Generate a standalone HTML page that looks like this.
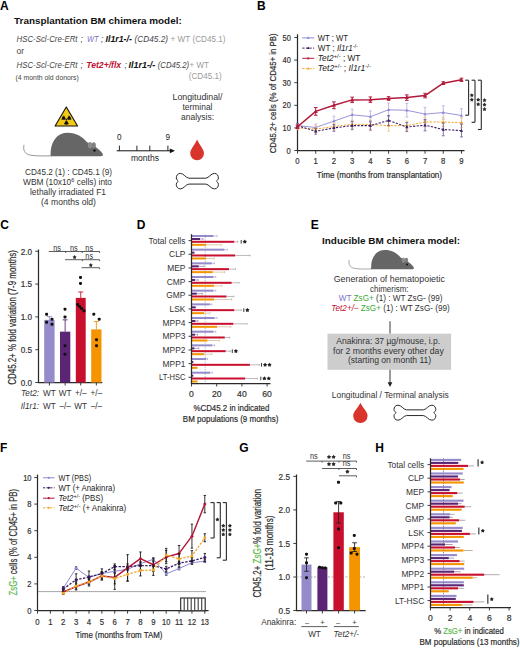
<!DOCTYPE html>
<html><head><meta charset="utf-8"><title>Figure</title>
<style>
html,body{margin:0;padding:0;background:#fff;}
svg{display:block;font-family:"Liberation Sans",sans-serif;}
</style></head>
<body>
<svg width="520" height="649" viewBox="0 0 520 649">
<rect width="520" height="649" fill="#fff"/>
<text x="0.1" y="9.8" font-size="12" fill="#000" font-weight="bold">A</text>
<text x="14.1" y="23.6" font-size="9.8" fill="#111" font-weight="bold" textLength="167.6" lengthAdjust="spacingAndGlyphs">Transplantation BM chimera model:</text>
<text y="42.4" font-size="8.5" fill="#464646" font-style="italic"><tspan x="16.5" textLength="61" lengthAdjust="spacingAndGlyphs">HSC-Scl-Cre-ERt</tspan><tspan x="80.6">;</tspan><tspan x="86.9" fill="#7c75c4" textLength="11.6" lengthAdjust="spacingAndGlyphs">WT</tspan><tspan x="100.9">;</tspan><tspan x="105.6" font-weight="bold" fill="#111" textLength="26.3" lengthAdjust="spacingAndGlyphs">Il1r1-/-</tspan><tspan x="134.6" fill="#444" textLength="33.4" lengthAdjust="spacingAndGlyphs">(CD45.2)</tspan><tspan x="170.6" font-style="normal" fill="#9a9a9a" textLength="54.9" lengthAdjust="spacingAndGlyphs">+ WT (CD45.1)</tspan></text>
<text x="16.5" y="54" font-size="8.5" fill="#464646">or</text>
<text y="67.6" font-size="8.5" fill="#464646" font-style="italic"><tspan x="16.5" textLength="61" lengthAdjust="spacingAndGlyphs">HSC-Scl-Cre-ERt</tspan><tspan x="80.6">;</tspan><tspan x="86.2" font-weight="bold" fill="#c0102f" textLength="35" lengthAdjust="spacingAndGlyphs">Tet2+/flx</tspan><tspan x="124.4">;</tspan><tspan x="128.6" font-weight="bold" fill="#111" textLength="26.7" lengthAdjust="spacingAndGlyphs">Il1r1-/-</tspan><tspan x="157.7" fill="#444" textLength="31.5" lengthAdjust="spacingAndGlyphs">(CD45.2)</tspan><tspan x="189.6" font-style="normal" fill="#9a9a9a" textLength="19.2" lengthAdjust="spacingAndGlyphs">+ WT</tspan></text>
<text x="188.7" y="78.8" font-size="8.5" fill="#9a9a9a" textLength="33" lengthAdjust="spacingAndGlyphs">(CD45.1)</text>
<text x="15.6" y="80.3" font-size="6.6" fill="#444" textLength="63.2" lengthAdjust="spacingAndGlyphs">(4 month old donors)</text>
<polygon points="66.3,107.0 77.6,126.0 55.1,126.0" fill="#f2c914" stroke="#111" stroke-width="1.1" stroke-linejoin="round"/>
<path d="M67.15,118.4 L68.85,115.46 A4.9,4.9 0 0 1 71.3,119.7 L67.9,119.7 Z" fill="#111"/>
<path d="M67.15,121 L68.85,123.94 A4.9,4.9 0 0 1 63.95,123.94 L65.65,121 Z" fill="#111"/>
<path d="M64.9,119.7 L61.5,119.7 A4.9,4.9 0 0 1 63.95,115.46 L65.65,118.4 Z" fill="#111"/>
<circle cx="66.4" cy="119.7" r="0.9" fill="#111"/>
<g transform="translate(23.5,128) scale(1)"><path d="M0.4,17.3 C-0.6,22 1,26 7,27.2 C14,28.2 21,28 28,27.8" fill="none" stroke="#8a8a8a" stroke-width="0.9" stroke-linecap="round"/><path d="M27.3,28.2 C26.4,18 31,5.2 43.2,4.8 C53,4.5 59,9 63.5,14.2 C67,15.5 71,17.5 75,21.3 C77.5,23.5 79.9,25.8 79.3,27.3 C79,28.1 78,28.2 77,28.2 Z" fill="#666"/><ellipse cx="66.6" cy="17.2" rx="2.1" ry="3.2" fill="#8c8c8c"/><ellipse cx="70.3" cy="17.3" rx="2.0" ry="3.0" fill="#7e7e7e"/><circle cx="71" cy="22.5" r="1.2" fill="#111"/></g>
<text x="68.5" y="175.3" font-size="8.2" text-anchor="middle" fill="#333" textLength="87" lengthAdjust="spacingAndGlyphs">CD45.2 (1) : CD45.1 (9)</text>
<text x="67.5" y="185.3" font-size="8.2" text-anchor="middle" fill="#333" textLength="89" lengthAdjust="spacingAndGlyphs">WBM (10x10<tspan dy="-3" font-size="5.5">6</tspan><tspan dy="3"> cells) into</tspan></text>
<text x="68" y="195.3" font-size="8.2" text-anchor="middle" fill="#333" textLength="76" lengthAdjust="spacingAndGlyphs">lethally irradiated F1</text>
<text x="68.5" y="205.3" font-size="8.2" text-anchor="middle" fill="#333" textLength="55" lengthAdjust="spacingAndGlyphs">(4 months old)</text>
<text x="119.4" y="139.7" font-size="8.2" text-anchor="middle" fill="#222">0</text>
<text x="167.9" y="139.7" font-size="8.2" text-anchor="middle" fill="#222">9</text>
<line x1="116.7" y1="150.8" x2="171.5" y2="150.8" stroke="#111" stroke-width="1"/>
<polygon points="175,150.8 169.8,148.4 169.8,153.2" fill="#111"/>
<line x1="119.4" y1="145.6" x2="119.4" y2="150.8" stroke="#111" stroke-width="0.9"/>
<line x1="136.9" y1="145.6" x2="136.9" y2="150.8" stroke="#111" stroke-width="0.9"/>
<line x1="149.8" y1="145.6" x2="149.8" y2="150.8" stroke="#111" stroke-width="0.9"/>
<line x1="167.9" y1="145.6" x2="167.9" y2="150.8" stroke="#111" stroke-width="0.9"/>
<text x="145" y="161.4" font-size="8.4" text-anchor="middle" fill="#222" textLength="28" lengthAdjust="spacingAndGlyphs">months</text>
<text x="197.5" y="99.8" font-size="8.2" text-anchor="middle" fill="#333" textLength="50" lengthAdjust="spacingAndGlyphs">Longitudinal/</text>
<text x="197.5" y="109.8" font-size="8.2" text-anchor="middle" fill="#333" textLength="30" lengthAdjust="spacingAndGlyphs">terminal</text>
<text x="197.5" y="119.8" font-size="8.2" text-anchor="middle" fill="#333" textLength="33" lengthAdjust="spacingAndGlyphs">analysis:</text>
<path d="M197.1,139.4 C199.51,145.22 204,149.16 204,153.3 A6.9,6.9 0 0 1 190.2,153.3 C190.2,149.16 194.69,145.22 197.1,139.4 Z" fill="#d9342b"/>
<path d="M188.93,178.21 L205.77,178.21 C209.14,177.9 210.82,173.4 214.4,173.4 C217.35,173.4 218.4,175.88 218.4,178.05 C218.4,179.91 216.51,180.53 216.38,181.15 C216.51,181.77 218.4,182.39 218.4,184.25 C218.4,186.42 217.35,188.9 214.4,188.9 C210.82,188.9 209.14,184.41 205.77,184.09 L188.93,184.09 C185.56,184.41 183.88,188.9 180.3,188.9 C177.35,188.9 176.3,186.42 176.3,184.25 C176.3,182.39 178.19,181.77 178.32,181.15 C178.19,180.53 176.3,179.91 176.3,178.05 C176.3,175.88 177.35,173.4 180.3,173.4 C183.88,173.4 185.56,177.9 188.93,178.21 Z" fill="#fff" stroke="#2a2a2a" stroke-width="1" stroke-linejoin="round"/>
<text x="257" y="9.8" font-size="12" fill="#000" font-weight="bold">B</text>
<line x1="297.5" y1="34.3" x2="297.5" y2="151" stroke="#2a2a2a" stroke-width="1.25"/>
<line x1="296.9" y1="150.5" x2="464.5" y2="150.5" stroke="#2a2a2a" stroke-width="1.25"/>
<line x1="294.3" y1="150.5" x2="297.5" y2="150.5" stroke="#2a2a2a" stroke-width="0.9"/>
<text x="290.8" y="153.6" font-size="8.6" text-anchor="end" fill="#333" textLength="4.2" lengthAdjust="spacingAndGlyphs" stroke="#333" stroke-width="0.2">0</text>
<line x1="294.3" y1="127.9" x2="297.5" y2="127.9" stroke="#2a2a2a" stroke-width="0.9"/>
<text x="290.8" y="131" font-size="8.6" text-anchor="end" fill="#333" textLength="8.3" lengthAdjust="spacingAndGlyphs" stroke="#333" stroke-width="0.2">10</text>
<line x1="294.3" y1="105.3" x2="297.5" y2="105.3" stroke="#2a2a2a" stroke-width="0.9"/>
<text x="290.8" y="108.4" font-size="8.6" text-anchor="end" fill="#333" textLength="8.3" lengthAdjust="spacingAndGlyphs" stroke="#333" stroke-width="0.2">20</text>
<line x1="294.3" y1="82.7" x2="297.5" y2="82.7" stroke="#2a2a2a" stroke-width="0.9"/>
<text x="290.8" y="85.8" font-size="8.6" text-anchor="end" fill="#333" textLength="8.3" lengthAdjust="spacingAndGlyphs" stroke="#333" stroke-width="0.2">30</text>
<line x1="294.3" y1="60.1" x2="297.5" y2="60.1" stroke="#2a2a2a" stroke-width="0.9"/>
<text x="290.8" y="63.2" font-size="8.6" text-anchor="end" fill="#333" textLength="8.3" lengthAdjust="spacingAndGlyphs" stroke="#333" stroke-width="0.2">40</text>
<line x1="294.3" y1="37.5" x2="297.5" y2="37.5" stroke="#2a2a2a" stroke-width="0.9"/>
<text x="290.8" y="40.6" font-size="8.6" text-anchor="end" fill="#333" textLength="8.3" lengthAdjust="spacingAndGlyphs" stroke="#333" stroke-width="0.2">50</text>
<line x1="297.5" y1="150.5" x2="297.5" y2="153.7" stroke="#2a2a2a" stroke-width="0.9"/>
<text x="297.5" y="164.3" font-size="8.6" text-anchor="middle" fill="#333" textLength="4.3" lengthAdjust="spacingAndGlyphs" stroke="#333" stroke-width="0.2">0</text>
<line x1="315.72" y1="150.5" x2="315.72" y2="153.7" stroke="#2a2a2a" stroke-width="0.9"/>
<text x="315.72" y="164.3" font-size="8.6" text-anchor="middle" fill="#333" textLength="4.3" lengthAdjust="spacingAndGlyphs" stroke="#333" stroke-width="0.2">1</text>
<line x1="333.94" y1="150.5" x2="333.94" y2="153.7" stroke="#2a2a2a" stroke-width="0.9"/>
<text x="333.94" y="164.3" font-size="8.6" text-anchor="middle" fill="#333" textLength="4.3" lengthAdjust="spacingAndGlyphs" stroke="#333" stroke-width="0.2">2</text>
<line x1="352.16" y1="150.5" x2="352.16" y2="153.7" stroke="#2a2a2a" stroke-width="0.9"/>
<text x="352.16" y="164.3" font-size="8.6" text-anchor="middle" fill="#333" textLength="4.3" lengthAdjust="spacingAndGlyphs" stroke="#333" stroke-width="0.2">3</text>
<line x1="370.38" y1="150.5" x2="370.38" y2="153.7" stroke="#2a2a2a" stroke-width="0.9"/>
<text x="370.38" y="164.3" font-size="8.6" text-anchor="middle" fill="#333" textLength="4.3" lengthAdjust="spacingAndGlyphs" stroke="#333" stroke-width="0.2">4</text>
<line x1="388.6" y1="150.5" x2="388.6" y2="153.7" stroke="#2a2a2a" stroke-width="0.9"/>
<text x="388.6" y="164.3" font-size="8.6" text-anchor="middle" fill="#333" textLength="4.3" lengthAdjust="spacingAndGlyphs" stroke="#333" stroke-width="0.2">5</text>
<line x1="406.82" y1="150.5" x2="406.82" y2="153.7" stroke="#2a2a2a" stroke-width="0.9"/>
<text x="406.82" y="164.3" font-size="8.6" text-anchor="middle" fill="#333" textLength="4.3" lengthAdjust="spacingAndGlyphs" stroke="#333" stroke-width="0.2">6</text>
<line x1="425.04" y1="150.5" x2="425.04" y2="153.7" stroke="#2a2a2a" stroke-width="0.9"/>
<text x="425.04" y="164.3" font-size="8.6" text-anchor="middle" fill="#333" textLength="4.3" lengthAdjust="spacingAndGlyphs" stroke="#333" stroke-width="0.2">7</text>
<line x1="443.26" y1="150.5" x2="443.26" y2="153.7" stroke="#2a2a2a" stroke-width="0.9"/>
<text x="443.26" y="164.3" font-size="8.6" text-anchor="middle" fill="#333" textLength="4.3" lengthAdjust="spacingAndGlyphs" stroke="#333" stroke-width="0.2">8</text>
<line x1="461.48" y1="150.5" x2="461.48" y2="153.7" stroke="#2a2a2a" stroke-width="0.9"/>
<text x="461.48" y="164.3" font-size="8.6" text-anchor="middle" fill="#333" textLength="4.3" lengthAdjust="spacingAndGlyphs" stroke="#333" stroke-width="0.2">9</text>
<text x="379.4" y="177.5" font-size="9.8" text-anchor="middle" fill="#2a2a2a" textLength="125.3" lengthAdjust="spacingAndGlyphs" stroke="#2a2a2a" stroke-width="0.2">Time (months from transplantation)</text>
<text transform="translate(275.9,93.3) rotate(-90)" font-size="9.6" text-anchor="middle" fill="#2a2a2a" stroke="#2a2a2a" stroke-width="0.2" textLength="120" lengthAdjust="spacingAndGlyphs">CD45.2+ cells (% of CD45+ in PB)</text>
<line x1="297.5" y1="123.38" x2="297.5" y2="127.9" stroke="#b2a9dd" stroke-width="0.8"/>
<line x1="296.1" y1="123.38" x2="298.9" y2="123.38" stroke="#b2a9dd" stroke-width="0.8"/>
<line x1="296.1" y1="127.9" x2="298.9" y2="127.9" stroke="#b2a9dd" stroke-width="0.8"/>
<line x1="315.72" y1="124.06" x2="315.72" y2="130.84" stroke="#b2a9dd" stroke-width="0.8"/>
<line x1="314.32" y1="124.06" x2="317.12" y2="124.06" stroke="#b2a9dd" stroke-width="0.8"/>
<line x1="314.32" y1="130.84" x2="317.12" y2="130.84" stroke="#b2a9dd" stroke-width="0.8"/>
<line x1="333.94" y1="116.15" x2="333.94" y2="126.09" stroke="#b2a9dd" stroke-width="0.8"/>
<line x1="332.54" y1="116.15" x2="335.34" y2="116.15" stroke="#b2a9dd" stroke-width="0.8"/>
<line x1="332.54" y1="126.09" x2="335.34" y2="126.09" stroke="#b2a9dd" stroke-width="0.8"/>
<line x1="352.16" y1="109.14" x2="352.16" y2="120.44" stroke="#b2a9dd" stroke-width="0.8"/>
<line x1="350.76" y1="109.14" x2="353.56" y2="109.14" stroke="#b2a9dd" stroke-width="0.8"/>
<line x1="350.76" y1="120.44" x2="353.56" y2="120.44" stroke="#b2a9dd" stroke-width="0.8"/>
<line x1="370.38" y1="110.95" x2="370.38" y2="122.25" stroke="#b2a9dd" stroke-width="0.8"/>
<line x1="368.98" y1="110.95" x2="371.78" y2="110.95" stroke="#b2a9dd" stroke-width="0.8"/>
<line x1="368.98" y1="122.25" x2="371.78" y2="122.25" stroke="#b2a9dd" stroke-width="0.8"/>
<line x1="388.6" y1="103.04" x2="388.6" y2="116.6" stroke="#b2a9dd" stroke-width="0.8"/>
<line x1="387.2" y1="103.04" x2="390" y2="103.04" stroke="#b2a9dd" stroke-width="0.8"/>
<line x1="387.2" y1="116.6" x2="390" y2="116.6" stroke="#b2a9dd" stroke-width="0.8"/>
<line x1="406.82" y1="103.49" x2="406.82" y2="117.05" stroke="#b2a9dd" stroke-width="0.8"/>
<line x1="405.42" y1="103.49" x2="408.22" y2="103.49" stroke="#b2a9dd" stroke-width="0.8"/>
<line x1="405.42" y1="117.05" x2="408.22" y2="117.05" stroke="#b2a9dd" stroke-width="0.8"/>
<line x1="425.04" y1="107.33" x2="425.04" y2="120.89" stroke="#b2a9dd" stroke-width="0.8"/>
<line x1="423.64" y1="107.33" x2="426.44" y2="107.33" stroke="#b2a9dd" stroke-width="0.8"/>
<line x1="423.64" y1="120.89" x2="426.44" y2="120.89" stroke="#b2a9dd" stroke-width="0.8"/>
<line x1="443.26" y1="105.75" x2="443.26" y2="119.31" stroke="#b2a9dd" stroke-width="0.8"/>
<line x1="441.86" y1="105.75" x2="444.66" y2="105.75" stroke="#b2a9dd" stroke-width="0.8"/>
<line x1="441.86" y1="119.31" x2="444.66" y2="119.31" stroke="#b2a9dd" stroke-width="0.8"/>
<line x1="461.48" y1="108.69" x2="461.48" y2="122.25" stroke="#b2a9dd" stroke-width="0.8"/>
<line x1="460.08" y1="108.69" x2="462.88" y2="108.69" stroke="#b2a9dd" stroke-width="0.8"/>
<line x1="460.08" y1="122.25" x2="462.88" y2="122.25" stroke="#b2a9dd" stroke-width="0.8"/>
<polyline points="297.5,125.64 315.72,127.45 333.94,121.12 352.16,114.79 370.38,116.6 388.6,109.82 406.82,110.27 425.04,114.11 443.26,112.53 461.48,115.47" fill="none" stroke="#8f88d4" stroke-width="0.9" stroke-linejoin="round"/>
<polygon points="297.5,123.94 299.1,126.84 295.9,126.84" fill="#8f88d4"/>
<polygon points="315.72,125.75 317.32,128.65 314.12,128.65" fill="#8f88d4"/>
<polygon points="333.94,119.42 335.54,122.32 332.34,122.32" fill="#8f88d4"/>
<polygon points="352.16,113.09 353.76,115.99 350.56,115.99" fill="#8f88d4"/>
<polygon points="370.38,114.9 371.98,117.8 368.78,117.8" fill="#8f88d4"/>
<polygon points="388.6,108.12 390.2,111.02 387,111.02" fill="#8f88d4"/>
<polygon points="406.82,108.57 408.42,111.47 405.22,111.47" fill="#8f88d4"/>
<polygon points="425.04,112.41 426.64,115.31 423.44,115.31" fill="#8f88d4"/>
<polygon points="443.26,110.83 444.86,113.73 441.66,113.73" fill="#8f88d4"/>
<polygon points="461.48,113.77 463.08,116.67 459.88,116.67" fill="#8f88d4"/>
<line x1="297.5" y1="126.09" x2="297.5" y2="129.71" stroke="#f6c777" stroke-width="0.8"/>
<line x1="296.1" y1="126.09" x2="298.9" y2="126.09" stroke="#f6c777" stroke-width="0.8"/>
<line x1="296.1" y1="129.71" x2="298.9" y2="129.71" stroke="#f6c777" stroke-width="0.8"/>
<line x1="315.72" y1="125.64" x2="315.72" y2="132.42" stroke="#f6c777" stroke-width="0.8"/>
<line x1="314.32" y1="125.64" x2="317.12" y2="125.64" stroke="#f6c777" stroke-width="0.8"/>
<line x1="314.32" y1="132.42" x2="317.12" y2="132.42" stroke="#f6c777" stroke-width="0.8"/>
<line x1="333.94" y1="123.15" x2="333.94" y2="129.93" stroke="#f6c777" stroke-width="0.8"/>
<line x1="332.54" y1="123.15" x2="335.34" y2="123.15" stroke="#f6c777" stroke-width="0.8"/>
<line x1="332.54" y1="129.93" x2="335.34" y2="129.93" stroke="#f6c777" stroke-width="0.8"/>
<line x1="352.16" y1="120.22" x2="352.16" y2="128.35" stroke="#f6c777" stroke-width="0.8"/>
<line x1="350.76" y1="120.22" x2="353.56" y2="120.22" stroke="#f6c777" stroke-width="0.8"/>
<line x1="350.76" y1="128.35" x2="353.56" y2="128.35" stroke="#f6c777" stroke-width="0.8"/>
<line x1="370.38" y1="119.99" x2="370.38" y2="129.03" stroke="#f6c777" stroke-width="0.8"/>
<line x1="368.98" y1="119.99" x2="371.78" y2="119.99" stroke="#f6c777" stroke-width="0.8"/>
<line x1="368.98" y1="129.03" x2="371.78" y2="129.03" stroke="#f6c777" stroke-width="0.8"/>
<line x1="388.6" y1="119.99" x2="388.6" y2="131.29" stroke="#f6c777" stroke-width="0.8"/>
<line x1="387.2" y1="119.99" x2="390" y2="119.99" stroke="#f6c777" stroke-width="0.8"/>
<line x1="387.2" y1="131.29" x2="390" y2="131.29" stroke="#f6c777" stroke-width="0.8"/>
<line x1="406.82" y1="121.12" x2="406.82" y2="130.16" stroke="#f6c777" stroke-width="0.8"/>
<line x1="405.42" y1="121.12" x2="408.22" y2="121.12" stroke="#f6c777" stroke-width="0.8"/>
<line x1="405.42" y1="130.16" x2="408.22" y2="130.16" stroke="#f6c777" stroke-width="0.8"/>
<line x1="425.04" y1="117.5" x2="425.04" y2="126.54" stroke="#f6c777" stroke-width="0.8"/>
<line x1="423.64" y1="117.5" x2="426.44" y2="117.5" stroke="#f6c777" stroke-width="0.8"/>
<line x1="423.64" y1="126.54" x2="426.44" y2="126.54" stroke="#f6c777" stroke-width="0.8"/>
<line x1="443.26" y1="117.5" x2="443.26" y2="126.54" stroke="#f6c777" stroke-width="0.8"/>
<line x1="441.86" y1="117.5" x2="444.66" y2="117.5" stroke="#f6c777" stroke-width="0.8"/>
<line x1="441.86" y1="126.54" x2="444.66" y2="126.54" stroke="#f6c777" stroke-width="0.8"/>
<line x1="461.48" y1="118.18" x2="461.48" y2="127.22" stroke="#f6c777" stroke-width="0.8"/>
<line x1="460.08" y1="118.18" x2="462.88" y2="118.18" stroke="#f6c777" stroke-width="0.8"/>
<line x1="460.08" y1="127.22" x2="462.88" y2="127.22" stroke="#f6c777" stroke-width="0.8"/>
<polyline points="297.5,127.9 315.72,129.03 333.94,126.54 352.16,124.28 370.38,124.51 388.6,125.64 406.82,125.64 425.04,122.02 443.26,122.02 461.48,122.7" fill="none" stroke="#f4a72a" stroke-width="1" stroke-linejoin="round" stroke-dasharray="2.2,1.4"/>
<polygon points="297.5,126.2 299.1,129.1 295.9,129.1" fill="#f4a72a"/>
<polygon points="315.72,127.33 317.32,130.23 314.12,130.23" fill="#f4a72a"/>
<polygon points="333.94,124.84 335.54,127.74 332.34,127.74" fill="#f4a72a"/>
<polygon points="352.16,122.58 353.76,125.48 350.56,125.48" fill="#f4a72a"/>
<polygon points="370.38,122.81 371.98,125.71 368.78,125.71" fill="#f4a72a"/>
<polygon points="388.6,123.94 390.2,126.84 387,126.84" fill="#f4a72a"/>
<polygon points="406.82,123.94 408.42,126.84 405.22,126.84" fill="#f4a72a"/>
<polygon points="425.04,120.32 426.64,123.22 423.44,123.22" fill="#f4a72a"/>
<polygon points="443.26,120.32 444.86,123.22 441.66,123.22" fill="#f4a72a"/>
<polygon points="461.48,121 463.08,123.9 459.88,123.9" fill="#f4a72a"/>
<line x1="297.5" y1="123.38" x2="297.5" y2="127.9" stroke="#6b5091" stroke-width="0.8"/>
<line x1="296.1" y1="123.38" x2="298.9" y2="123.38" stroke="#6b5091" stroke-width="0.8"/>
<line x1="296.1" y1="127.9" x2="298.9" y2="127.9" stroke="#6b5091" stroke-width="0.8"/>
<line x1="315.72" y1="128.35" x2="315.72" y2="134.23" stroke="#6b5091" stroke-width="0.8"/>
<line x1="314.32" y1="128.35" x2="317.12" y2="128.35" stroke="#6b5091" stroke-width="0.8"/>
<line x1="314.32" y1="134.23" x2="317.12" y2="134.23" stroke="#6b5091" stroke-width="0.8"/>
<line x1="333.94" y1="124.51" x2="333.94" y2="131.29" stroke="#6b5091" stroke-width="0.8"/>
<line x1="332.54" y1="124.51" x2="335.34" y2="124.51" stroke="#6b5091" stroke-width="0.8"/>
<line x1="332.54" y1="131.29" x2="335.34" y2="131.29" stroke="#6b5091" stroke-width="0.8"/>
<line x1="352.16" y1="121.57" x2="352.16" y2="129.71" stroke="#6b5091" stroke-width="0.8"/>
<line x1="350.76" y1="121.57" x2="353.56" y2="121.57" stroke="#6b5091" stroke-width="0.8"/>
<line x1="350.76" y1="129.71" x2="353.56" y2="129.71" stroke="#6b5091" stroke-width="0.8"/>
<line x1="370.38" y1="121.12" x2="370.38" y2="130.16" stroke="#6b5091" stroke-width="0.8"/>
<line x1="368.98" y1="121.12" x2="371.78" y2="121.12" stroke="#6b5091" stroke-width="0.8"/>
<line x1="368.98" y1="130.16" x2="371.78" y2="130.16" stroke="#6b5091" stroke-width="0.8"/>
<line x1="388.6" y1="115.47" x2="388.6" y2="125.41" stroke="#6b5091" stroke-width="0.8"/>
<line x1="387.2" y1="115.47" x2="390" y2="115.47" stroke="#6b5091" stroke-width="0.8"/>
<line x1="387.2" y1="125.41" x2="390" y2="125.41" stroke="#6b5091" stroke-width="0.8"/>
<line x1="406.82" y1="122.48" x2="406.82" y2="131.52" stroke="#6b5091" stroke-width="0.8"/>
<line x1="405.42" y1="122.48" x2="408.22" y2="122.48" stroke="#6b5091" stroke-width="0.8"/>
<line x1="405.42" y1="131.52" x2="408.22" y2="131.52" stroke="#6b5091" stroke-width="0.8"/>
<line x1="425.04" y1="119.54" x2="425.04" y2="130.84" stroke="#6b5091" stroke-width="0.8"/>
<line x1="423.64" y1="119.54" x2="426.44" y2="119.54" stroke="#6b5091" stroke-width="0.8"/>
<line x1="423.64" y1="130.84" x2="426.44" y2="130.84" stroke="#6b5091" stroke-width="0.8"/>
<line x1="443.26" y1="123.15" x2="443.26" y2="135.81" stroke="#6b5091" stroke-width="0.8"/>
<line x1="441.86" y1="123.15" x2="444.66" y2="123.15" stroke="#6b5091" stroke-width="0.8"/>
<line x1="441.86" y1="135.81" x2="444.66" y2="135.81" stroke="#6b5091" stroke-width="0.8"/>
<line x1="461.48" y1="124.28" x2="461.48" y2="136.94" stroke="#6b5091" stroke-width="0.8"/>
<line x1="460.08" y1="124.28" x2="462.88" y2="124.28" stroke="#6b5091" stroke-width="0.8"/>
<line x1="460.08" y1="136.94" x2="462.88" y2="136.94" stroke="#6b5091" stroke-width="0.8"/>
<polyline points="297.5,125.64 315.72,131.29 333.94,127.9 352.16,125.64 370.38,125.64 388.6,120.44 406.82,127 425.04,125.19 443.26,129.48 461.48,130.61" fill="none" stroke="#3a1b63" stroke-width="1.1" stroke-linejoin="round" stroke-dasharray="2.2,1.4"/>
<polygon points="297.5,123.94 299.1,126.84 295.9,126.84" fill="#3a1b63"/>
<polygon points="315.72,129.59 317.32,132.49 314.12,132.49" fill="#3a1b63"/>
<polygon points="333.94,126.2 335.54,129.1 332.34,129.1" fill="#3a1b63"/>
<polygon points="352.16,123.94 353.76,126.84 350.56,126.84" fill="#3a1b63"/>
<polygon points="370.38,123.94 371.98,126.84 368.78,126.84" fill="#3a1b63"/>
<polygon points="388.6,118.74 390.2,121.64 387,121.64" fill="#3a1b63"/>
<polygon points="406.82,125.3 408.42,128.2 405.22,128.2" fill="#3a1b63"/>
<polygon points="425.04,123.49 426.64,126.39 423.44,126.39" fill="#3a1b63"/>
<polygon points="443.26,127.78 444.86,130.68 441.66,130.68" fill="#3a1b63"/>
<polygon points="461.48,128.91 463.08,131.81 459.88,131.81" fill="#3a1b63"/>
<line x1="297.5" y1="124.96" x2="297.5" y2="128.58" stroke="#b3193b" stroke-width="1"/>
<line x1="295.7" y1="124.96" x2="299.3" y2="124.96" stroke="#b3193b" stroke-width="1"/>
<line x1="295.7" y1="128.58" x2="299.3" y2="128.58" stroke="#b3193b" stroke-width="1"/>
<line x1="315.72" y1="107.56" x2="315.72" y2="115.24" stroke="#b3193b" stroke-width="1"/>
<line x1="313.92" y1="107.56" x2="317.52" y2="107.56" stroke="#b3193b" stroke-width="1"/>
<line x1="313.92" y1="115.24" x2="317.52" y2="115.24" stroke="#b3193b" stroke-width="1"/>
<line x1="333.94" y1="101.91" x2="333.94" y2="108.69" stroke="#b3193b" stroke-width="1"/>
<line x1="332.14" y1="101.91" x2="335.74" y2="101.91" stroke="#b3193b" stroke-width="1"/>
<line x1="332.14" y1="108.69" x2="335.74" y2="108.69" stroke="#b3193b" stroke-width="1"/>
<line x1="352.16" y1="97.16" x2="352.16" y2="102.59" stroke="#b3193b" stroke-width="1"/>
<line x1="350.36" y1="97.16" x2="353.96" y2="97.16" stroke="#b3193b" stroke-width="1"/>
<line x1="350.36" y1="102.59" x2="353.96" y2="102.59" stroke="#b3193b" stroke-width="1"/>
<line x1="370.38" y1="96.94" x2="370.38" y2="102.36" stroke="#b3193b" stroke-width="1"/>
<line x1="368.58" y1="96.94" x2="372.18" y2="96.94" stroke="#b3193b" stroke-width="1"/>
<line x1="368.58" y1="102.36" x2="372.18" y2="102.36" stroke="#b3193b" stroke-width="1"/>
<line x1="388.6" y1="96.71" x2="388.6" y2="100.33" stroke="#b3193b" stroke-width="1"/>
<line x1="386.8" y1="96.71" x2="390.4" y2="96.71" stroke="#b3193b" stroke-width="1"/>
<line x1="386.8" y1="100.33" x2="390.4" y2="100.33" stroke="#b3193b" stroke-width="1"/>
<line x1="406.82" y1="94.9" x2="406.82" y2="100.33" stroke="#b3193b" stroke-width="1"/>
<line x1="405.02" y1="94.9" x2="408.62" y2="94.9" stroke="#b3193b" stroke-width="1"/>
<line x1="405.02" y1="100.33" x2="408.62" y2="100.33" stroke="#b3193b" stroke-width="1"/>
<line x1="425.04" y1="93.32" x2="425.04" y2="97.84" stroke="#b3193b" stroke-width="1"/>
<line x1="423.24" y1="93.32" x2="426.84" y2="93.32" stroke="#b3193b" stroke-width="1"/>
<line x1="423.24" y1="97.84" x2="426.84" y2="97.84" stroke="#b3193b" stroke-width="1"/>
<line x1="443.26" y1="81.8" x2="443.26" y2="84.51" stroke="#b3193b" stroke-width="1"/>
<line x1="441.46" y1="81.8" x2="445.06" y2="81.8" stroke="#b3193b" stroke-width="1"/>
<line x1="441.46" y1="84.51" x2="445.06" y2="84.51" stroke="#b3193b" stroke-width="1"/>
<line x1="461.48" y1="78.18" x2="461.48" y2="81.34" stroke="#b3193b" stroke-width="1"/>
<line x1="459.68" y1="78.18" x2="463.28" y2="78.18" stroke="#b3193b" stroke-width="1"/>
<line x1="459.68" y1="81.34" x2="463.28" y2="81.34" stroke="#b3193b" stroke-width="1"/>
<polyline points="297.5,126.77 315.72,111.4 333.94,105.3 352.16,99.88 370.38,99.65 388.6,98.52 406.82,97.62 425.04,95.58 443.26,83.15 461.48,79.76" fill="none" stroke="#b3193b" stroke-width="1.5" stroke-linejoin="round"/>
<polygon points="297.5,124.65 299.5,128.27 295.5,128.27" fill="#b3193b"/>
<polygon points="315.72,109.28 317.72,112.9 313.72,112.9" fill="#b3193b"/>
<polygon points="333.94,103.18 335.94,106.8 331.94,106.8" fill="#b3193b"/>
<polygon points="352.16,97.75 354.16,101.38 350.16,101.38" fill="#b3193b"/>
<polygon points="370.38,97.53 372.38,101.15 368.38,101.15" fill="#b3193b"/>
<polygon points="388.6,96.4 390.6,100.02 386.6,100.02" fill="#b3193b"/>
<polygon points="406.82,95.49 408.82,99.12 404.82,99.12" fill="#b3193b"/>
<polygon points="425.04,93.46 427.04,97.08 423.04,97.08" fill="#b3193b"/>
<polygon points="443.26,81.03 445.26,84.65 441.26,84.65" fill="#b3193b"/>
<polygon points="461.48,77.64 463.48,81.26 459.48,81.26" fill="#b3193b"/>
<line x1="302.3" y1="37.9" x2="314.2" y2="37.9" stroke="#8f88d4" stroke-width="1"/>
<polygon points="308.2,36.3 309.6,38.9 306.8,38.9" fill="#8f88d4"/>
<text x="317.8" y="40.6" font-size="8.6" fill="#222" textLength="30.2" lengthAdjust="spacingAndGlyphs">WT ; WT</text>
<line x1="302.3" y1="48.1" x2="314.2" y2="48.1" stroke="#3a1b63" stroke-width="1" stroke-dasharray="2.2,1.4"/>
<polygon points="308.2,46.5 309.6,49.1 306.8,49.1" fill="#3a1b63"/>
<text x="317.8" y="50.8" font-size="8.6" fill="#222" textLength="40.2" lengthAdjust="spacingAndGlyphs">WT ; <tspan font-style="italic">Il1r1</tspan><tspan dy="-3" font-size="6">-/-</tspan></text>
<line x1="302.3" y1="58.3" x2="314.2" y2="58.3" stroke="#b3193b" stroke-width="1"/>
<polygon points="308.2,56.7 309.6,59.3 306.8,59.3" fill="#b3193b"/>
<text x="317.8" y="61" font-size="8.6" fill="#222" textLength="42.6" lengthAdjust="spacingAndGlyphs"><tspan font-style="italic">Tet2</tspan><tspan dy="-3" font-size="6">+/-</tspan><tspan dy="3"> ; WT</tspan></text>
<line x1="302.3" y1="68.6" x2="314.2" y2="68.6" stroke="#f4a72a" stroke-width="1" stroke-dasharray="2.2,1.4"/>
<polygon points="308.2,67 309.6,69.6 306.8,69.6" fill="#f4a72a"/>
<text x="317.8" y="71.3" font-size="8.6" fill="#222" textLength="53.2" lengthAdjust="spacingAndGlyphs"><tspan font-style="italic">Tet2</tspan><tspan dy="-3" font-size="6">+/-</tspan><tspan dy="3"> ; </tspan><tspan font-style="italic">Il1r1</tspan><tspan dy="-3" font-size="6">-/-</tspan></text>
<line x1="468.6" y1="80.2" x2="468.6" y2="115.2" stroke="#2a2a2a" stroke-width="1.1"/>
<line x1="465.2" y1="80.2" x2="468.6" y2="80.2" stroke="#2a2a2a" stroke-width="1.1"/>
<line x1="465.2" y1="115.2" x2="468.6" y2="115.2" stroke="#2a2a2a" stroke-width="1.1"/>
<polygon points="471.8,93.2 472.54,94.28 473.8,94.65 473,95.69 473.03,97 471.8,96.56 470.57,97 470.6,95.69 469.8,94.65 471.06,94.28" fill="#2a2a2a"/>
<polygon points="471.8,97.6 472.54,98.68 473.8,99.05 473,100.09 473.03,101.4 471.8,100.96 470.57,101.4 470.6,100.09 469.8,99.05 471.06,98.68" fill="#2a2a2a"/>
<line x1="475" y1="80.2" x2="475" y2="122.3" stroke="#2a2a2a" stroke-width="1.1"/>
<line x1="471.6" y1="80.2" x2="475" y2="80.2" stroke="#2a2a2a" stroke-width="1.1"/>
<line x1="471.6" y1="122.3" x2="475" y2="122.3" stroke="#2a2a2a" stroke-width="1.1"/>
<polygon points="478.2,97.7 478.94,98.78 480.2,99.15 479.4,100.19 479.43,101.5 478.2,101.06 476.97,101.5 477,100.19 476.2,99.15 477.46,98.78" fill="#2a2a2a"/>
<polygon points="478.2,102.2 478.94,103.28 480.2,103.65 479.4,104.69 479.43,106 478.2,105.56 476.97,106 477,104.69 476.2,103.65 477.46,103.28" fill="#2a2a2a"/>
<line x1="481.3" y1="80.2" x2="481.3" y2="129.5" stroke="#2a2a2a" stroke-width="1.1"/>
<line x1="477.9" y1="80.2" x2="481.3" y2="80.2" stroke="#2a2a2a" stroke-width="1.1"/>
<line x1="477.9" y1="129.5" x2="481.3" y2="129.5" stroke="#2a2a2a" stroke-width="1.1"/>
<polygon points="484.5,98.1 485.24,99.18 486.5,99.55 485.7,100.59 485.73,101.9 484.5,101.46 483.27,101.9 483.3,100.59 482.5,99.55 483.76,99.18" fill="#2a2a2a"/>
<polygon points="484.5,102.6 485.24,103.68 486.5,104.05 485.7,105.09 485.73,106.4 484.5,105.96 483.27,106.4 483.3,105.09 482.5,104.05 483.76,103.68" fill="#2a2a2a"/>
<polygon points="484.5,107.1 485.24,108.18 486.5,108.55 485.7,109.59 485.73,110.9 484.5,110.46 483.27,110.9 483.3,109.59 482.5,108.55 483.76,108.18" fill="#2a2a2a"/>
<text x="0.3" y="228.7" font-size="12" fill="#000" font-weight="bold">C</text>
<line x1="38.5" y1="249.5" x2="38.5" y2="383" stroke="#2a2a2a" stroke-width="1.25"/>
<line x1="37.9" y1="382.5" x2="102.3" y2="382.5" stroke="#2a2a2a" stroke-width="1.25"/>
<line x1="35.3" y1="382.5" x2="38.5" y2="382.5" stroke="#2a2a2a" stroke-width="0.9"/>
<text x="32.1" y="385.7" font-size="8.8" text-anchor="end" fill="#333" textLength="11.4" lengthAdjust="spacingAndGlyphs" stroke="#333" stroke-width="0.2">0.0</text>
<line x1="35.3" y1="349.7" x2="38.5" y2="349.7" stroke="#2a2a2a" stroke-width="0.9"/>
<text x="32.1" y="352.9" font-size="8.8" text-anchor="end" fill="#333" textLength="11.4" lengthAdjust="spacingAndGlyphs" stroke="#333" stroke-width="0.2">0.5</text>
<line x1="35.3" y1="316.9" x2="38.5" y2="316.9" stroke="#2a2a2a" stroke-width="0.9"/>
<text x="32.1" y="320.1" font-size="8.8" text-anchor="end" fill="#333" textLength="11.4" lengthAdjust="spacingAndGlyphs" stroke="#333" stroke-width="0.2">1.0</text>
<line x1="35.3" y1="284.1" x2="38.5" y2="284.1" stroke="#2a2a2a" stroke-width="0.9"/>
<text x="32.1" y="287.3" font-size="8.8" text-anchor="end" fill="#333" textLength="11.4" lengthAdjust="spacingAndGlyphs" stroke="#333" stroke-width="0.2">1.5</text>
<line x1="35.3" y1="251.3" x2="38.5" y2="251.3" stroke="#2a2a2a" stroke-width="0.9"/>
<text x="32.1" y="254.5" font-size="8.8" text-anchor="end" fill="#333" textLength="11.4" lengthAdjust="spacingAndGlyphs" stroke="#333" stroke-width="0.2">2.0</text>
<rect x="44.2" y="319.85" width="10.4" height="62.65" fill="#958bcb"/>
<line x1="49.4" y1="316.57" x2="49.4" y2="319.85" stroke="#958bcb" stroke-width="0.9"/>
<line x1="46.9" y1="316.57" x2="51.9" y2="316.57" stroke="#958bcb" stroke-width="0.9"/>
<line x1="49.4" y1="382.5" x2="49.4" y2="385.5" stroke="#2a2a2a" stroke-width="0.9"/>
<rect x="60" y="331.66" width="10.3" height="50.84" fill="#5b2474"/>
<line x1="65.15" y1="319.85" x2="65.15" y2="331.66" stroke="#5b2474" stroke-width="0.9"/>
<line x1="62.65" y1="319.85" x2="67.65" y2="319.85" stroke="#5b2474" stroke-width="0.9"/>
<line x1="65.15" y1="382.5" x2="65.15" y2="385.5" stroke="#2a2a2a" stroke-width="0.9"/>
<rect x="75.8" y="297.88" width="9.9" height="84.62" fill="#c8102e"/>
<line x1="80.75" y1="291.97" x2="80.75" y2="297.88" stroke="#c8102e" stroke-width="0.9"/>
<line x1="78.25" y1="291.97" x2="83.25" y2="291.97" stroke="#c8102e" stroke-width="0.9"/>
<line x1="80.75" y1="382.5" x2="80.75" y2="385.5" stroke="#2a2a2a" stroke-width="0.9"/>
<rect x="91.2" y="329.36" width="10.3" height="53.14" fill="#f49500"/>
<line x1="96.35" y1="321.49" x2="96.35" y2="329.36" stroke="#f49500" stroke-width="0.9"/>
<line x1="93.85" y1="321.49" x2="98.85" y2="321.49" stroke="#f49500" stroke-width="0.9"/>
<line x1="96.35" y1="382.5" x2="96.35" y2="385.5" stroke="#2a2a2a" stroke-width="0.9"/>
<rect x="45.1" y="312.8" width="3" height="3" fill="#111" rx="1.1"/>
<rect x="50.5" y="317.7" width="3" height="3" fill="#111" rx="1.1"/>
<rect x="45.1" y="320.8" width="3" height="3" fill="#111" rx="1.1"/>
<rect x="50.5" y="322.8" width="3" height="3" fill="#111" rx="1.1"/>
<rect x="63.5" y="307.7" width="3" height="3" fill="#111" rx="1.1"/>
<rect x="63.5" y="315.5" width="3" height="3" fill="#111" rx="1.1"/>
<rect x="63.5" y="344.2" width="3" height="3" fill="#111" rx="1.1"/>
<rect x="63.5" y="352.7" width="3" height="3" fill="#111" rx="1.1"/>
<rect x="79" y="275.9" width="3" height="3" fill="#111" rx="1.1"/>
<rect x="79" y="281.9" width="3" height="3" fill="#111" rx="1.1"/>
<rect x="76.1" y="303.1" width="3" height="3" fill="#111" rx="1.1"/>
<rect x="78.1" y="305" width="3" height="3" fill="#111" rx="1.1"/>
<rect x="80.1" y="307" width="3" height="3" fill="#111" rx="1.1"/>
<rect x="82.5" y="309.3" width="3" height="3" fill="#111" rx="1.1"/>
<rect x="92.3" y="312.7" width="3" height="3" fill="#111" rx="1.1"/>
<rect x="97.7" y="317.7" width="3" height="3" fill="#111" rx="1.1"/>
<rect x="95" y="338.2" width="3" height="3" fill="#111" rx="1.1"/>
<rect x="95" y="344.2" width="3" height="3" fill="#111" rx="1.1"/>
<line x1="48.8" y1="251.5" x2="99.6" y2="251.5" stroke="#333" stroke-width="0.8"/>
<line x1="99.6" y1="251.5" x2="99.6" y2="253" stroke="#333" stroke-width="0.8"/>
<line x1="65.7" y1="251.5" x2="65.7" y2="253" stroke="#333" stroke-width="0.8"/>
<line x1="82.3" y1="251.5" x2="82.3" y2="253" stroke="#333" stroke-width="0.8"/>
<line x1="65" y1="259.7" x2="99.6" y2="259.7" stroke="#333" stroke-width="0.8"/>
<line x1="99.6" y1="259.7" x2="99.6" y2="261.2" stroke="#333" stroke-width="0.8"/>
<line x1="82.3" y1="259.7" x2="82.3" y2="261.2" stroke="#333" stroke-width="0.8"/>
<line x1="81.5" y1="267.7" x2="99.6" y2="267.7" stroke="#333" stroke-width="0.8"/>
<line x1="99.6" y1="267.7" x2="99.6" y2="269.2" stroke="#333" stroke-width="0.8"/>
<text x="57" y="250.8" font-size="9" text-anchor="middle" fill="#333" textLength="7.7" lengthAdjust="spacingAndGlyphs">ns</text>
<text x="73.8" y="250.8" font-size="9" text-anchor="middle" fill="#333" textLength="7.7" lengthAdjust="spacingAndGlyphs">ns</text>
<text x="89.2" y="250.8" font-size="9" text-anchor="middle" fill="#333" textLength="7.7" lengthAdjust="spacingAndGlyphs">ns</text>
<text x="89.2" y="259" font-size="9" text-anchor="middle" fill="#333" textLength="7.7" lengthAdjust="spacingAndGlyphs">ns</text>
<polygon points="74.6,255.1 75.34,256.18 76.6,256.55 75.8,257.59 75.83,258.9 74.6,258.46 73.37,258.9 73.4,257.59 72.6,256.55 73.86,256.18" fill="#2a2a2a"/>
<polygon points="90.8,263.1 91.54,264.18 92.8,264.55 92,265.59 92.03,266.9 90.8,266.46 89.57,266.9 89.6,265.59 88.8,264.55 90.06,264.18" fill="#2a2a2a"/>
<text transform="translate(15.7,317.4) rotate(-90)" font-size="10" text-anchor="middle" fill="#2a2a2a" stroke="#2a2a2a" stroke-width="0.2" textLength="134.5" lengthAdjust="spacingAndGlyphs">CD45.2+ % fold variation (7-9 months)</text>
<text x="39" y="396.2" font-size="8.2" text-anchor="end" fill="#333" font-style="italic">Tet2:</text>
<text x="39" y="409" font-size="8.2" text-anchor="end" fill="#333" font-style="italic">Il1r1:</text>
<text x="49.4" y="396.2" font-size="8.2" text-anchor="middle" fill="#333">WT</text>
<text x="65.1" y="396.2" font-size="8.2" text-anchor="middle" fill="#333">WT</text>
<text x="80.7" y="396.2" font-size="8.2" text-anchor="middle" fill="#333">+/–</text>
<text x="96.4" y="396.2" font-size="8.2" text-anchor="middle" fill="#333">+/–</text>
<text x="49.4" y="409" font-size="8.2" text-anchor="middle" fill="#333">WT</text>
<text x="65.1" y="409" font-size="8.2" text-anchor="middle" fill="#333">–/–</text>
<text x="80.7" y="409" font-size="8.2" text-anchor="middle" fill="#333">WT</text>
<text x="96.4" y="409" font-size="8.2" text-anchor="middle" fill="#333">–/–</text>
<text x="136.8" y="228.6" font-size="12" fill="#000" font-weight="bold">D</text>
<line x1="205.2" y1="234.5" x2="205.2" y2="383.5" stroke="#8d8fb5" stroke-width="0.7" stroke-dasharray="1.2,1.2"/>
<line x1="188.5" y1="240.6" x2="191.5" y2="240.6" stroke="#2a2a2a" stroke-width="0.9"/>
<text x="185.4" y="243.7" font-size="8.4" text-anchor="end" fill="#333">Total cells</text>
<rect x="191.5" y="235" width="21.9" height="2" fill="#958bcb"/>
<line x1="213.4" y1="236" x2="217" y2="236" stroke="#a9a4c4" stroke-width="0.7"/>
<line x1="217" y1="235" x2="217" y2="237" stroke="#a9a4c4" stroke-width="0.7"/>
<rect x="191.5" y="238" width="8.5" height="2" fill="#5b2474"/>
<line x1="200" y1="239" x2="203" y2="239" stroke="#8f8799" stroke-width="0.7"/>
<line x1="203" y1="238" x2="203" y2="240" stroke="#8f8799" stroke-width="0.7"/>
<rect x="191.5" y="240.8" width="42.8" height="2" fill="#c8102e"/>
<line x1="234.3" y1="241.8" x2="237.8" y2="241.8" stroke="#a89aa0" stroke-width="0.7"/>
<line x1="237.8" y1="240.8" x2="237.8" y2="242.8" stroke="#a89aa0" stroke-width="0.7"/>
<rect x="191.5" y="243.8" width="14.5" height="2" fill="#f49500"/>
<line x1="206" y1="244.8" x2="221.3" y2="244.8" stroke="#c8b490" stroke-width="0.7"/>
<line x1="221.3" y1="243.8" x2="221.3" y2="245.8" stroke="#c8b490" stroke-width="0.7"/>
<line x1="188.5" y1="254.27" x2="191.5" y2="254.27" stroke="#2a2a2a" stroke-width="0.9"/>
<text x="185.4" y="257.37" font-size="8.4" text-anchor="end" fill="#333">CLP</text>
<rect x="191.5" y="248.67" width="32.94" height="2" fill="#958bcb"/>
<line x1="224.44" y1="249.67" x2="227.4" y2="249.67" stroke="#a9a4c4" stroke-width="0.7"/>
<line x1="227.4" y1="248.67" x2="227.4" y2="250.67" stroke="#a9a4c4" stroke-width="0.7"/>
<rect x="191.5" y="251.67" width="3" height="2" fill="#5b2474"/>
<rect x="191.5" y="254.47" width="43.7" height="2" fill="#c8102e"/>
<line x1="235.2" y1="255.47" x2="250" y2="255.47" stroke="#a89aa0" stroke-width="0.7"/>
<line x1="250" y1="254.47" x2="250" y2="256.47" stroke="#a89aa0" stroke-width="0.7"/>
<rect x="191.5" y="257.47" width="14.5" height="2" fill="#f49500"/>
<line x1="206" y1="258.47" x2="214.4" y2="258.47" stroke="#c8b490" stroke-width="0.7"/>
<line x1="214.4" y1="257.47" x2="214.4" y2="259.47" stroke="#c8b490" stroke-width="0.7"/>
<line x1="188.5" y1="267.94" x2="191.5" y2="267.94" stroke="#2a2a2a" stroke-width="0.9"/>
<text x="185.4" y="271.04" font-size="8.4" text-anchor="end" fill="#333">MEP</text>
<rect x="191.5" y="262.34" width="20.34" height="2" fill="#958bcb"/>
<line x1="211.84" y1="263.34" x2="214.4" y2="263.34" stroke="#a9a4c4" stroke-width="0.7"/>
<line x1="214.4" y1="262.34" x2="214.4" y2="264.34" stroke="#a9a4c4" stroke-width="0.7"/>
<rect x="191.5" y="265.34" width="7.3" height="2" fill="#5b2474"/>
<line x1="198.8" y1="266.34" x2="204" y2="266.34" stroke="#8f8799" stroke-width="0.7"/>
<line x1="204" y1="265.34" x2="204" y2="267.34" stroke="#8f8799" stroke-width="0.7"/>
<rect x="191.5" y="268.14" width="37.5" height="2" fill="#c8102e"/>
<line x1="229" y1="269.14" x2="235.5" y2="269.14" stroke="#a89aa0" stroke-width="0.7"/>
<line x1="235.5" y1="268.14" x2="235.5" y2="270.14" stroke="#a89aa0" stroke-width="0.7"/>
<rect x="191.5" y="271.14" width="21.2" height="2" fill="#f49500"/>
<line x1="212.7" y1="272.14" x2="224.8" y2="272.14" stroke="#c8b490" stroke-width="0.7"/>
<line x1="224.8" y1="271.14" x2="224.8" y2="273.14" stroke="#c8b490" stroke-width="0.7"/>
<line x1="188.5" y1="281.61" x2="191.5" y2="281.61" stroke="#2a2a2a" stroke-width="0.9"/>
<text x="185.4" y="284.71" font-size="8.4" text-anchor="end" fill="#333">CMP</text>
<rect x="191.5" y="276.01" width="21.98" height="2" fill="#958bcb"/>
<line x1="213.48" y1="277.01" x2="215.8" y2="277.01" stroke="#a9a4c4" stroke-width="0.7"/>
<line x1="215.8" y1="276.01" x2="215.8" y2="278.01" stroke="#a9a4c4" stroke-width="0.7"/>
<rect x="191.5" y="279.01" width="3.5" height="2" fill="#5b2474"/>
<line x1="195" y1="280.01" x2="198" y2="280.01" stroke="#8f8799" stroke-width="0.7"/>
<line x1="198" y1="279.01" x2="198" y2="281.01" stroke="#8f8799" stroke-width="0.7"/>
<rect x="191.5" y="281.81" width="40.2" height="2" fill="#c8102e"/>
<line x1="231.7" y1="282.81" x2="239" y2="282.81" stroke="#a89aa0" stroke-width="0.7"/>
<line x1="239" y1="281.81" x2="239" y2="283.81" stroke="#a89aa0" stroke-width="0.7"/>
<rect x="191.5" y="284.81" width="22.5" height="2" fill="#f49500"/>
<line x1="214" y1="285.81" x2="222" y2="285.81" stroke="#c8b490" stroke-width="0.7"/>
<line x1="222" y1="284.81" x2="222" y2="286.81" stroke="#c8b490" stroke-width="0.7"/>
<line x1="188.5" y1="295.28" x2="191.5" y2="295.28" stroke="#2a2a2a" stroke-width="0.9"/>
<text x="185.4" y="298.38" font-size="8.4" text-anchor="end" fill="#333">GMP</text>
<rect x="191.5" y="289.68" width="21.98" height="2" fill="#958bcb"/>
<line x1="213.48" y1="290.68" x2="215.8" y2="290.68" stroke="#a9a4c4" stroke-width="0.7"/>
<line x1="215.8" y1="289.68" x2="215.8" y2="291.68" stroke="#a9a4c4" stroke-width="0.7"/>
<rect x="191.5" y="292.68" width="5.3" height="2" fill="#5b2474"/>
<line x1="196.8" y1="293.68" x2="202.3" y2="293.68" stroke="#8f8799" stroke-width="0.7"/>
<line x1="202.3" y1="292.68" x2="202.3" y2="294.68" stroke="#8f8799" stroke-width="0.7"/>
<rect x="191.5" y="295.48" width="35" height="2" fill="#c8102e"/>
<line x1="226.5" y1="296.48" x2="233.8" y2="296.48" stroke="#a89aa0" stroke-width="0.7"/>
<line x1="233.8" y1="295.48" x2="233.8" y2="297.48" stroke="#a89aa0" stroke-width="0.7"/>
<rect x="191.5" y="298.48" width="22.5" height="2" fill="#f49500"/>
<line x1="214" y1="299.48" x2="231.7" y2="299.48" stroke="#c8b490" stroke-width="0.7"/>
<line x1="231.7" y1="298.48" x2="231.7" y2="300.48" stroke="#c8b490" stroke-width="0.7"/>
<line x1="188.5" y1="308.95" x2="191.5" y2="308.95" stroke="#2a2a2a" stroke-width="0.9"/>
<text x="185.4" y="312.05" font-size="8.4" text-anchor="end" fill="#333">LSK</text>
<rect x="191.5" y="303.35" width="18.38" height="2" fill="#958bcb"/>
<line x1="209.88" y1="304.35" x2="211.8" y2="304.35" stroke="#a9a4c4" stroke-width="0.7"/>
<line x1="211.8" y1="303.35" x2="211.8" y2="305.35" stroke="#a9a4c4" stroke-width="0.7"/>
<rect x="191.5" y="306.35" width="4.2" height="2" fill="#5b2474"/>
<rect x="191.5" y="309.15" width="42.8" height="2" fill="#c8102e"/>
<line x1="234.3" y1="310.15" x2="241.2" y2="310.15" stroke="#a89aa0" stroke-width="0.7"/>
<line x1="241.2" y1="309.15" x2="241.2" y2="311.15" stroke="#a89aa0" stroke-width="0.7"/>
<rect x="191.5" y="312.15" width="12.5" height="2" fill="#f49500"/>
<line x1="204" y1="313.15" x2="210.1" y2="313.15" stroke="#c8b490" stroke-width="0.7"/>
<line x1="210.1" y1="312.15" x2="210.1" y2="314.15" stroke="#c8b490" stroke-width="0.7"/>
<line x1="188.5" y1="322.62" x2="191.5" y2="322.62" stroke="#2a2a2a" stroke-width="0.9"/>
<text x="185.4" y="325.72" font-size="8.4" text-anchor="end" fill="#333">MPP4</text>
<rect x="191.5" y="317.02" width="23.1" height="2" fill="#958bcb"/>
<line x1="214.6" y1="318.02" x2="217" y2="318.02" stroke="#a9a4c4" stroke-width="0.7"/>
<line x1="217" y1="317.02" x2="217" y2="319.02" stroke="#a9a4c4" stroke-width="0.7"/>
<rect x="191.5" y="320.02" width="4" height="2" fill="#5b2474"/>
<line x1="195.5" y1="321.02" x2="198" y2="321.02" stroke="#8f8799" stroke-width="0.7"/>
<line x1="198" y1="320.02" x2="198" y2="322.02" stroke="#8f8799" stroke-width="0.7"/>
<rect x="191.5" y="322.82" width="41.9" height="2" fill="#c8102e"/>
<line x1="233.4" y1="323.82" x2="247" y2="323.82" stroke="#a89aa0" stroke-width="0.7"/>
<line x1="247" y1="322.82" x2="247" y2="324.82" stroke="#a89aa0" stroke-width="0.7"/>
<rect x="191.5" y="325.82" width="25.5" height="2" fill="#f49500"/>
<line x1="217" y1="326.82" x2="230.8" y2="326.82" stroke="#c8b490" stroke-width="0.7"/>
<line x1="230.8" y1="325.82" x2="230.8" y2="327.82" stroke="#c8b490" stroke-width="0.7"/>
<line x1="188.5" y1="336.29" x2="191.5" y2="336.29" stroke="#2a2a2a" stroke-width="0.9"/>
<text x="185.4" y="339.39" font-size="8.4" text-anchor="end" fill="#333">MPP3</text>
<rect x="191.5" y="330.69" width="21.98" height="2" fill="#958bcb"/>
<line x1="213.48" y1="331.69" x2="215.8" y2="331.69" stroke="#a9a4c4" stroke-width="0.7"/>
<line x1="215.8" y1="330.69" x2="215.8" y2="332.69" stroke="#a9a4c4" stroke-width="0.7"/>
<rect x="191.5" y="333.69" width="3.5" height="2" fill="#5b2474"/>
<line x1="195" y1="334.69" x2="197.5" y2="334.69" stroke="#8f8799" stroke-width="0.7"/>
<line x1="197.5" y1="333.69" x2="197.5" y2="335.69" stroke="#8f8799" stroke-width="0.7"/>
<rect x="191.5" y="336.49" width="33.3" height="2" fill="#c8102e"/>
<line x1="224.8" y1="337.49" x2="229.6" y2="337.49" stroke="#a89aa0" stroke-width="0.7"/>
<line x1="229.6" y1="336.49" x2="229.6" y2="338.49" stroke="#a89aa0" stroke-width="0.7"/>
<rect x="191.5" y="339.49" width="16" height="2" fill="#f49500"/>
<line x1="207.5" y1="340.49" x2="219.6" y2="340.49" stroke="#c8b490" stroke-width="0.7"/>
<line x1="219.6" y1="339.49" x2="219.6" y2="341.49" stroke="#c8b490" stroke-width="0.7"/>
<line x1="188.5" y1="349.96" x2="191.5" y2="349.96" stroke="#2a2a2a" stroke-width="0.9"/>
<text x="185.4" y="353.06" font-size="8.4" text-anchor="end" fill="#333">MPP2</text>
<rect x="191.5" y="344.36" width="20.74" height="2" fill="#958bcb"/>
<line x1="212.24" y1="345.36" x2="214.4" y2="345.36" stroke="#a9a4c4" stroke-width="0.7"/>
<line x1="214.4" y1="344.36" x2="214.4" y2="346.36" stroke="#a9a4c4" stroke-width="0.7"/>
<rect x="191.5" y="347.36" width="3" height="2" fill="#5b2474"/>
<line x1="194.5" y1="348.36" x2="198.8" y2="348.36" stroke="#8f8799" stroke-width="0.7"/>
<line x1="198.8" y1="347.36" x2="198.8" y2="349.36" stroke="#8f8799" stroke-width="0.7"/>
<rect x="191.5" y="350.16" width="34.2" height="2" fill="#c8102e"/>
<line x1="225.7" y1="351.16" x2="230.3" y2="351.16" stroke="#a89aa0" stroke-width="0.7"/>
<line x1="230.3" y1="350.16" x2="230.3" y2="352.16" stroke="#a89aa0" stroke-width="0.7"/>
<rect x="191.5" y="353.16" width="12.5" height="2" fill="#f49500"/>
<line x1="204" y1="354.16" x2="211.8" y2="354.16" stroke="#c8b490" stroke-width="0.7"/>
<line x1="211.8" y1="353.16" x2="211.8" y2="355.16" stroke="#c8b490" stroke-width="0.7"/>
<line x1="188.5" y1="363.63" x2="191.5" y2="363.63" stroke="#2a2a2a" stroke-width="0.9"/>
<text x="185.4" y="366.73" font-size="8.4" text-anchor="end" fill="#333">MPP1</text>
<rect x="191.5" y="358.03" width="14.6" height="2" fill="#958bcb"/>
<line x1="206.1" y1="359.03" x2="207.5" y2="359.03" stroke="#a9a4c4" stroke-width="0.7"/>
<line x1="207.5" y1="358.03" x2="207.5" y2="360.03" stroke="#a9a4c4" stroke-width="0.7"/>
<rect x="191.5" y="361.03" width="1.8" height="2" fill="#5b2474"/>
<rect x="191.5" y="363.83" width="58.4" height="2" fill="#c8102e"/>
<line x1="249.9" y1="364.83" x2="259.4" y2="364.83" stroke="#a89aa0" stroke-width="0.7"/>
<line x1="259.4" y1="363.83" x2="259.4" y2="365.83" stroke="#a89aa0" stroke-width="0.7"/>
<rect x="191.5" y="366.83" width="6" height="2" fill="#f49500"/>
<line x1="188.5" y1="377.3" x2="191.5" y2="377.3" stroke="#2a2a2a" stroke-width="0.9"/>
<text x="185.4" y="380.4" font-size="8.4" text-anchor="end" fill="#333" textLength="26.3" lengthAdjust="spacingAndGlyphs">LT-HSC</text>
<rect x="191.5" y="371.7" width="18.68" height="2" fill="#958bcb"/>
<line x1="210.18" y1="372.7" x2="212.3" y2="372.7" stroke="#a9a4c4" stroke-width="0.7"/>
<line x1="212.3" y1="371.7" x2="212.3" y2="373.7" stroke="#a9a4c4" stroke-width="0.7"/>
<rect x="191.5" y="374.7" width="1.8" height="2" fill="#5b2474"/>
<rect x="191.5" y="377.5" width="53.7" height="2" fill="#c8102e"/>
<line x1="245.2" y1="378.5" x2="257.3" y2="378.5" stroke="#a89aa0" stroke-width="0.7"/>
<line x1="257.3" y1="377.5" x2="257.3" y2="379.5" stroke="#a89aa0" stroke-width="0.7"/>
<rect x="191.5" y="380.5" width="6" height="2" fill="#f49500"/>
<line x1="191.5" y1="234.2" x2="191.5" y2="384" stroke="#2a2a2a" stroke-width="1.25"/>
<line x1="190.9" y1="383.5" x2="270.5" y2="383.5" stroke="#2a2a2a" stroke-width="1.25"/>
<line x1="191.5" y1="383.5" x2="191.5" y2="386.5" stroke="#2a2a2a" stroke-width="0.9"/>
<text x="191.5" y="397.2" font-size="8.6" text-anchor="middle" fill="#333" stroke="#333" stroke-width="0.2">0</text>
<line x1="216.7" y1="383.5" x2="216.7" y2="386.5" stroke="#2a2a2a" stroke-width="0.9"/>
<text x="216.7" y="397.2" font-size="8.6" text-anchor="middle" fill="#333" stroke="#333" stroke-width="0.2">20</text>
<line x1="241.9" y1="383.5" x2="241.9" y2="386.5" stroke="#2a2a2a" stroke-width="0.9"/>
<text x="241.9" y="397.2" font-size="8.6" text-anchor="middle" fill="#333" stroke="#333" stroke-width="0.2">40</text>
<line x1="267.1" y1="383.5" x2="267.1" y2="386.5" stroke="#2a2a2a" stroke-width="0.9"/>
<text x="267.1" y="397.2" font-size="8.6" text-anchor="middle" fill="#333" stroke="#333" stroke-width="0.2">60</text>
<line x1="241.2" y1="240" x2="241.2" y2="243.6" stroke="#222" stroke-width="0.9"/>
<polygon points="244.8,239.6 245.58,240.73 246.89,241.12 246.06,242.21 246.09,243.58 244.8,243.12 243.51,243.58 243.54,242.21 242.71,241.12 244.02,240.73" fill="#222"/>
<line x1="243.8" y1="308.35" x2="243.8" y2="311.95" stroke="#222" stroke-width="0.9"/>
<polygon points="247.4,307.95 248.18,309.08 249.49,309.47 248.66,310.56 248.69,311.93 247.4,311.47 246.11,311.93 246.14,310.56 245.31,309.47 246.62,309.08" fill="#222"/>
<line x1="232.3" y1="349.36" x2="232.3" y2="352.96" stroke="#222" stroke-width="0.9"/>
<polygon points="235.9,348.96 236.68,350.09 237.99,350.48 237.16,351.57 237.19,352.94 235.9,352.48 234.61,352.94 234.64,351.57 233.81,350.48 235.12,350.09" fill="#222"/>
<line x1="261.5" y1="363.03" x2="261.5" y2="366.63" stroke="#222" stroke-width="0.9"/>
<polygon points="265.1,362.63 265.88,363.76 267.19,364.15 266.36,365.24 266.39,366.61 265.1,366.15 263.81,366.61 263.84,365.24 263.01,364.15 264.32,363.76" fill="#222"/>
<polygon points="269.5,362.63 270.28,363.76 271.59,364.15 270.76,365.24 270.79,366.61 269.5,366.15 268.21,366.61 268.24,365.24 267.41,364.15 268.72,363.76" fill="#222"/>
<line x1="260.8" y1="376.7" x2="260.8" y2="380.3" stroke="#222" stroke-width="0.9"/>
<polygon points="264.4,376.3 265.18,377.43 266.49,377.82 265.66,378.91 265.69,380.28 264.4,379.82 263.11,380.28 263.14,378.91 262.31,377.82 263.62,377.43" fill="#222"/>
<polygon points="268.8,376.3 269.58,377.43 270.89,377.82 270.06,378.91 270.09,380.28 268.8,379.82 267.51,380.28 267.54,378.91 266.71,377.82 268.02,377.43" fill="#222"/>
<text x="231.4" y="410.8" font-size="9.5" text-anchor="middle" fill="#2a2a2a" textLength="76" lengthAdjust="spacingAndGlyphs" stroke="#2a2a2a" stroke-width="0.2">%CD45.2 in indicated</text>
<text x="230.6" y="421.5" font-size="9.5" text-anchor="middle" fill="#2a2a2a" textLength="95.5" lengthAdjust="spacingAndGlyphs" stroke="#2a2a2a" stroke-width="0.2">BM populations (9 months)</text>
<text x="310.7" y="228.7" font-size="12" fill="#000" font-weight="bold">E</text>
<text x="322" y="243.8" font-size="9.8" fill="#111" font-weight="bold" textLength="138" lengthAdjust="spacingAndGlyphs">Inducible BM chimera model:</text>
<g transform="translate(348.8,246.1) scale(0.82)"><path d="M0.4,17.3 C-0.6,22 1,26 7,27.2 C14,28.2 21,28 28,27.8" fill="none" stroke="#8a8a8a" stroke-width="0.9" stroke-linecap="round"/><path d="M27.3,28.2 C26.4,18 31,5.2 43.2,4.8 C53,4.5 59,9 63.5,14.2 C67,15.5 71,17.5 75,21.3 C77.5,23.5 79.9,25.8 79.3,27.3 C79,28.1 78,28.2 77,28.2 Z" fill="#666"/><ellipse cx="66.6" cy="17.2" rx="2.1" ry="3.2" fill="#8c8c8c"/><ellipse cx="70.3" cy="17.3" rx="2.0" ry="3.0" fill="#7e7e7e"/><circle cx="71" cy="22.5" r="1.2" fill="#111"/></g>
<text x="389.3" y="282.1" font-size="8.5" text-anchor="middle" fill="#333" textLength="111.2" lengthAdjust="spacingAndGlyphs">Generation of hematopoietic</text>
<text x="389.3" y="291.6" font-size="8.5" text-anchor="middle" fill="#333" textLength="38.5" lengthAdjust="spacingAndGlyphs">chimerism:</text>
<text x="338.8" y="301.2" font-size="8.2" fill="#333" textLength="103.7" lengthAdjust="spacingAndGlyphs"><tspan fill="#7c75c4">WT </tspan><tspan fill="#3aa935">ZsG+</tspan> (1) : WT ZsG- (99)</text>
<text x="331.3" y="311.2" font-size="8.2" fill="#333" textLength="118.5" lengthAdjust="spacingAndGlyphs"><tspan fill="#c0102f" font-style="italic">Tet2+/– </tspan><tspan fill="#3aa935">ZsG+</tspan> (1) : WT ZsG- (99)</text>
<line x1="390" y1="321.3" x2="390" y2="333.7" stroke="#222" stroke-width="0.9"/>
<rect x="327.5" y="333.7" width="123.6" height="36.1" fill="#cdcdcd"/>
<text x="388.2" y="344.4" font-size="8.6" text-anchor="middle" fill="#333" textLength="103.7" lengthAdjust="spacingAndGlyphs">Anakinra: 37 µg/mouse, i.p.</text>
<text x="388.4" y="353.9" font-size="8.6" text-anchor="middle" fill="#333" textLength="110.8" lengthAdjust="spacingAndGlyphs">for 2 months  every other day</text>
<text x="389.6" y="362.6" font-size="8.6" text-anchor="middle" fill="#333" textLength="83.3" lengthAdjust="spacingAndGlyphs">(starting on month 11)</text>
<line x1="390" y1="369.8" x2="390" y2="383.5" stroke="#222" stroke-width="0.9"/>
<polygon points="390,387 387.6,382.2 392.4,382.2" fill="#222"/>
<text x="390.3" y="398.3" font-size="8.2" text-anchor="middle" fill="#333" textLength="117" lengthAdjust="spacingAndGlyphs">Longitudinal / Terminal analysis</text>
<path d="M360.4,402.8 C362.92,408.46 367.6,411.48 367.6,415.8 A7.2,7.2 0 0 1 353.2,415.8 C353.2,411.48 357.88,408.46 360.4,402.8 Z" fill="#d9342b"/>
<path d="M406.54,409.85 L423.26,409.85 C426.6,409.55 428.28,405.2 431.83,405.2 C434.75,405.2 435.8,407.6 435.8,409.7 C435.8,411.5 433.92,412.1 433.79,412.7 C433.92,413.3 435.8,413.9 435.8,415.7 C435.8,417.8 434.75,420.2 431.83,420.2 C428.28,420.2 426.6,415.85 423.26,415.55 L406.54,415.55 C403.2,415.85 401.52,420.2 397.97,420.2 C395.05,420.2 394,417.8 394,415.7 C394,413.9 395.88,413.3 396.01,412.7 C395.88,412.1 394,411.5 394,409.7 C394,407.6 395.05,405.2 397.97,405.2 C401.52,405.2 403.2,409.55 406.54,409.85 Z" fill="#fff" stroke="#2a2a2a" stroke-width="1" stroke-linejoin="round"/>
<text x="0" y="451.8" font-size="12" fill="#000" font-weight="bold">F</text>
<line x1="37.5" y1="474.6" x2="37.5" y2="611" stroke="#2a2a2a" stroke-width="1.25"/>
<line x1="36.9" y1="610.5" x2="208.6" y2="610.5" stroke="#2a2a2a" stroke-width="1.25"/>
<line x1="34.3" y1="610.5" x2="37.5" y2="610.5" stroke="#2a2a2a" stroke-width="0.9"/>
<text x="31.5" y="613.6" font-size="8.6" text-anchor="end" fill="#333" textLength="4.2" lengthAdjust="spacingAndGlyphs" stroke="#333" stroke-width="0.2">0</text>
<line x1="34.3" y1="583.9" x2="37.5" y2="583.9" stroke="#2a2a2a" stroke-width="0.9"/>
<text x="31.5" y="587" font-size="8.6" text-anchor="end" fill="#333" textLength="4.2" lengthAdjust="spacingAndGlyphs" stroke="#333" stroke-width="0.2">2</text>
<line x1="34.3" y1="557.3" x2="37.5" y2="557.3" stroke="#2a2a2a" stroke-width="0.9"/>
<text x="31.5" y="560.4" font-size="8.6" text-anchor="end" fill="#333" textLength="4.2" lengthAdjust="spacingAndGlyphs" stroke="#333" stroke-width="0.2">4</text>
<line x1="34.3" y1="530.7" x2="37.5" y2="530.7" stroke="#2a2a2a" stroke-width="0.9"/>
<text x="31.5" y="533.8" font-size="8.6" text-anchor="end" fill="#333" textLength="4.2" lengthAdjust="spacingAndGlyphs" stroke="#333" stroke-width="0.2">6</text>
<line x1="34.3" y1="504.1" x2="37.5" y2="504.1" stroke="#2a2a2a" stroke-width="0.9"/>
<text x="31.5" y="507.2" font-size="8.6" text-anchor="end" fill="#333" textLength="4.2" lengthAdjust="spacingAndGlyphs" stroke="#333" stroke-width="0.2">8</text>
<line x1="34.3" y1="477.5" x2="37.5" y2="477.5" stroke="#2a2a2a" stroke-width="0.9"/>
<text x="31.5" y="480.6" font-size="8.6" text-anchor="end" fill="#333" textLength="8.3" lengthAdjust="spacingAndGlyphs" stroke="#333" stroke-width="0.2">10</text>
<line x1="37.5" y1="610.5" x2="37.5" y2="613.7" stroke="#2a2a2a" stroke-width="0.9"/>
<text x="37.5" y="624.7" font-size="8.6" text-anchor="middle" fill="#333" textLength="4.3" lengthAdjust="spacingAndGlyphs" stroke="#333" stroke-width="0.2">0</text>
<line x1="50.37" y1="610.5" x2="50.37" y2="613.7" stroke="#2a2a2a" stroke-width="0.9"/>
<text x="50.37" y="624.7" font-size="8.6" text-anchor="middle" fill="#333" textLength="4.3" lengthAdjust="spacingAndGlyphs" stroke="#333" stroke-width="0.2">1</text>
<line x1="63.24" y1="610.5" x2="63.24" y2="613.7" stroke="#2a2a2a" stroke-width="0.9"/>
<text x="63.24" y="624.7" font-size="8.6" text-anchor="middle" fill="#333" textLength="4.3" lengthAdjust="spacingAndGlyphs" stroke="#333" stroke-width="0.2">2</text>
<line x1="76.11" y1="610.5" x2="76.11" y2="613.7" stroke="#2a2a2a" stroke-width="0.9"/>
<text x="76.11" y="624.7" font-size="8.6" text-anchor="middle" fill="#333" textLength="4.3" lengthAdjust="spacingAndGlyphs" stroke="#333" stroke-width="0.2">3</text>
<line x1="88.98" y1="610.5" x2="88.98" y2="613.7" stroke="#2a2a2a" stroke-width="0.9"/>
<text x="88.98" y="624.7" font-size="8.6" text-anchor="middle" fill="#333" textLength="4.3" lengthAdjust="spacingAndGlyphs" stroke="#333" stroke-width="0.2">4</text>
<line x1="101.85" y1="610.5" x2="101.85" y2="613.7" stroke="#2a2a2a" stroke-width="0.9"/>
<text x="101.85" y="624.7" font-size="8.6" text-anchor="middle" fill="#333" textLength="4.3" lengthAdjust="spacingAndGlyphs" stroke="#333" stroke-width="0.2">5</text>
<line x1="114.72" y1="610.5" x2="114.72" y2="613.7" stroke="#2a2a2a" stroke-width="0.9"/>
<text x="114.72" y="624.7" font-size="8.6" text-anchor="middle" fill="#333" textLength="4.3" lengthAdjust="spacingAndGlyphs" stroke="#333" stroke-width="0.2">6</text>
<line x1="127.59" y1="610.5" x2="127.59" y2="613.7" stroke="#2a2a2a" stroke-width="0.9"/>
<text x="127.59" y="624.7" font-size="8.6" text-anchor="middle" fill="#333" textLength="4.3" lengthAdjust="spacingAndGlyphs" stroke="#333" stroke-width="0.2">7</text>
<line x1="140.46" y1="610.5" x2="140.46" y2="613.7" stroke="#2a2a2a" stroke-width="0.9"/>
<text x="140.46" y="624.7" font-size="8.6" text-anchor="middle" fill="#333" textLength="4.3" lengthAdjust="spacingAndGlyphs" stroke="#333" stroke-width="0.2">8</text>
<line x1="153.33" y1="610.5" x2="153.33" y2="613.7" stroke="#2a2a2a" stroke-width="0.9"/>
<text x="153.33" y="624.7" font-size="8.6" text-anchor="middle" fill="#333" textLength="4.3" lengthAdjust="spacingAndGlyphs" stroke="#333" stroke-width="0.2">9</text>
<line x1="166.2" y1="610.5" x2="166.2" y2="613.7" stroke="#2a2a2a" stroke-width="0.9"/>
<text x="166.2" y="624.7" font-size="8.6" text-anchor="middle" fill="#333" textLength="8.3" lengthAdjust="spacingAndGlyphs" stroke="#333" stroke-width="0.2">10</text>
<line x1="179.07" y1="610.5" x2="179.07" y2="613.7" stroke="#2a2a2a" stroke-width="0.9"/>
<text x="179.07" y="624.7" font-size="8.6" text-anchor="middle" fill="#333" textLength="8.3" lengthAdjust="spacingAndGlyphs" stroke="#333" stroke-width="0.2">11</text>
<line x1="191.94" y1="610.5" x2="191.94" y2="613.7" stroke="#2a2a2a" stroke-width="0.9"/>
<text x="191.94" y="624.7" font-size="8.6" text-anchor="middle" fill="#333" textLength="8.3" lengthAdjust="spacingAndGlyphs" stroke="#333" stroke-width="0.2">12</text>
<line x1="204.81" y1="610.5" x2="204.81" y2="613.7" stroke="#2a2a2a" stroke-width="0.9"/>
<text x="204.81" y="624.7" font-size="8.6" text-anchor="middle" fill="#333" textLength="8.3" lengthAdjust="spacingAndGlyphs" stroke="#333" stroke-width="0.2">13</text>
<text x="119" y="638.2" font-size="9.8" text-anchor="middle" fill="#2a2a2a" textLength="87" lengthAdjust="spacingAndGlyphs" stroke="#2a2a2a" stroke-width="0.2">Time (months from TAM)</text>
<text transform="translate(16.8,542.2) rotate(-90)" font-size="10" text-anchor="middle" fill="#2a2a2a" stroke="#2a2a2a" stroke-width="0.2" textLength="106.5" lengthAdjust="spacingAndGlyphs"><tspan fill="#5cb84e" stroke="#5cb84e">ZsG+</tspan> cells (% of CD45+ in PB)</text>
<line x1="37.5" y1="591.6" x2="206" y2="591.6" stroke="#222" stroke-width="0.9" stroke-dasharray="0.9,1.1"/>
<rect x="180.7" y="598" width="24.5" height="12.8" fill="#fff" stroke="#222" stroke-width="1.1"/>
<line x1="184.2" y1="598" x2="184.2" y2="610.8" stroke="#444" stroke-width="1.15"/>
<line x1="187.7" y1="598" x2="187.7" y2="610.8" stroke="#444" stroke-width="1.15"/>
<line x1="191.2" y1="598" x2="191.2" y2="610.8" stroke="#444" stroke-width="1.15"/>
<line x1="194.7" y1="598" x2="194.7" y2="610.8" stroke="#444" stroke-width="1.15"/>
<line x1="198.2" y1="598" x2="198.2" y2="610.8" stroke="#444" stroke-width="1.15"/>
<line x1="201.7" y1="598" x2="201.7" y2="610.8" stroke="#444" stroke-width="1.15"/>
<line x1="63.24" y1="586.83" x2="63.24" y2="589.49" stroke="#1a1a1a" stroke-width="0.9"/>
<line x1="62.04" y1="586.83" x2="64.44" y2="586.83" stroke="#1a1a1a" stroke-width="0.9"/>
<line x1="62.04" y1="589.49" x2="64.44" y2="589.49" stroke="#1a1a1a" stroke-width="0.9"/>
<line x1="76.11" y1="566.88" x2="76.11" y2="569.54" stroke="#1a1a1a" stroke-width="0.9"/>
<line x1="74.91" y1="566.88" x2="77.31" y2="566.88" stroke="#1a1a1a" stroke-width="0.9"/>
<line x1="74.91" y1="569.54" x2="77.31" y2="569.54" stroke="#1a1a1a" stroke-width="0.9"/>
<line x1="88.98" y1="576.05" x2="88.98" y2="578.71" stroke="#1a1a1a" stroke-width="0.9"/>
<line x1="87.78" y1="576.05" x2="90.18" y2="576.05" stroke="#1a1a1a" stroke-width="0.9"/>
<line x1="87.78" y1="578.71" x2="90.18" y2="578.71" stroke="#1a1a1a" stroke-width="0.9"/>
<line x1="101.85" y1="572.2" x2="101.85" y2="574.86" stroke="#1a1a1a" stroke-width="0.9"/>
<line x1="100.65" y1="572.2" x2="103.05" y2="572.2" stroke="#1a1a1a" stroke-width="0.9"/>
<line x1="100.65" y1="574.86" x2="103.05" y2="574.86" stroke="#1a1a1a" stroke-width="0.9"/>
<line x1="114.72" y1="569.93" x2="114.72" y2="572.6" stroke="#1a1a1a" stroke-width="0.9"/>
<line x1="113.52" y1="569.93" x2="115.92" y2="569.93" stroke="#1a1a1a" stroke-width="0.9"/>
<line x1="113.52" y1="572.6" x2="115.92" y2="572.6" stroke="#1a1a1a" stroke-width="0.9"/>
<line x1="127.59" y1="567.94" x2="127.59" y2="570.6" stroke="#1a1a1a" stroke-width="0.9"/>
<line x1="126.39" y1="567.94" x2="128.79" y2="567.94" stroke="#1a1a1a" stroke-width="0.9"/>
<line x1="126.39" y1="570.6" x2="128.79" y2="570.6" stroke="#1a1a1a" stroke-width="0.9"/>
<line x1="140.46" y1="562.35" x2="140.46" y2="565.01" stroke="#1a1a1a" stroke-width="0.9"/>
<line x1="139.26" y1="562.35" x2="141.66" y2="562.35" stroke="#1a1a1a" stroke-width="0.9"/>
<line x1="139.26" y1="565.01" x2="141.66" y2="565.01" stroke="#1a1a1a" stroke-width="0.9"/>
<line x1="153.33" y1="557.97" x2="153.33" y2="560.62" stroke="#1a1a1a" stroke-width="0.9"/>
<line x1="152.13" y1="557.97" x2="154.53" y2="557.97" stroke="#1a1a1a" stroke-width="0.9"/>
<line x1="152.13" y1="560.62" x2="154.53" y2="560.62" stroke="#1a1a1a" stroke-width="0.9"/>
<line x1="166.2" y1="572.6" x2="166.2" y2="575.25" stroke="#1a1a1a" stroke-width="0.9"/>
<line x1="165" y1="572.6" x2="167.4" y2="572.6" stroke="#1a1a1a" stroke-width="0.9"/>
<line x1="165" y1="575.25" x2="167.4" y2="575.25" stroke="#1a1a1a" stroke-width="0.9"/>
<line x1="179.07" y1="567.14" x2="179.07" y2="569.8" stroke="#1a1a1a" stroke-width="0.9"/>
<line x1="177.87" y1="567.14" x2="180.27" y2="567.14" stroke="#1a1a1a" stroke-width="0.9"/>
<line x1="177.87" y1="569.8" x2="180.27" y2="569.8" stroke="#1a1a1a" stroke-width="0.9"/>
<line x1="191.94" y1="561.42" x2="191.94" y2="564.08" stroke="#1a1a1a" stroke-width="0.9"/>
<line x1="190.74" y1="561.42" x2="193.14" y2="561.42" stroke="#1a1a1a" stroke-width="0.9"/>
<line x1="190.74" y1="564.08" x2="193.14" y2="564.08" stroke="#1a1a1a" stroke-width="0.9"/>
<line x1="204.81" y1="559.83" x2="204.81" y2="562.49" stroke="#1a1a1a" stroke-width="0.9"/>
<line x1="203.61" y1="559.83" x2="206.01" y2="559.83" stroke="#1a1a1a" stroke-width="0.9"/>
<line x1="203.61" y1="562.49" x2="206.01" y2="562.49" stroke="#1a1a1a" stroke-width="0.9"/>
<polyline points="63.24,588.16 76.11,568.21 88.98,577.38 101.85,573.53 114.72,571.26 127.59,569.27 140.46,563.68 153.33,559.29 166.2,573.92 179.07,568.47 191.94,562.75 204.81,561.16" fill="none" stroke="#8f88d4" stroke-width="1" stroke-linejoin="round"/>
<circle cx="63.24" cy="588.16" r="1.5" fill="#8f88d4"/>
<circle cx="76.11" cy="568.21" r="1.5" fill="#8f88d4"/>
<circle cx="88.98" cy="577.38" r="1.5" fill="#8f88d4"/>
<circle cx="101.85" cy="573.53" r="1.5" fill="#8f88d4"/>
<circle cx="114.72" cy="571.26" r="1.5" fill="#8f88d4"/>
<circle cx="127.59" cy="569.27" r="1.5" fill="#8f88d4"/>
<circle cx="140.46" cy="563.68" r="1.5" fill="#8f88d4"/>
<circle cx="153.33" cy="559.29" r="1.5" fill="#8f88d4"/>
<circle cx="166.2" cy="573.92" r="1.5" fill="#8f88d4"/>
<circle cx="179.07" cy="568.47" r="1.5" fill="#8f88d4"/>
<circle cx="191.94" cy="562.75" r="1.5" fill="#8f88d4"/>
<circle cx="204.81" cy="561.16" r="1.5" fill="#8f88d4"/>
<line x1="63.24" y1="586.96" x2="63.24" y2="590.95" stroke="#1a1a1a" stroke-width="0.9"/>
<line x1="62.04" y1="586.96" x2="64.44" y2="586.96" stroke="#1a1a1a" stroke-width="0.9"/>
<line x1="62.04" y1="590.95" x2="64.44" y2="590.95" stroke="#1a1a1a" stroke-width="0.9"/>
<line x1="76.11" y1="573.79" x2="76.11" y2="585.76" stroke="#1a1a1a" stroke-width="0.9"/>
<line x1="74.91" y1="573.79" x2="77.31" y2="573.79" stroke="#1a1a1a" stroke-width="0.9"/>
<line x1="74.91" y1="585.76" x2="77.31" y2="585.76" stroke="#1a1a1a" stroke-width="0.9"/>
<line x1="88.98" y1="571" x2="88.98" y2="582.97" stroke="#1a1a1a" stroke-width="0.9"/>
<line x1="87.78" y1="571" x2="90.18" y2="571" stroke="#1a1a1a" stroke-width="0.9"/>
<line x1="87.78" y1="582.97" x2="90.18" y2="582.97" stroke="#1a1a1a" stroke-width="0.9"/>
<line x1="101.85" y1="568.87" x2="101.85" y2="578.18" stroke="#1a1a1a" stroke-width="0.9"/>
<line x1="100.65" y1="568.87" x2="103.05" y2="568.87" stroke="#1a1a1a" stroke-width="0.9"/>
<line x1="100.65" y1="578.18" x2="103.05" y2="578.18" stroke="#1a1a1a" stroke-width="0.9"/>
<line x1="114.72" y1="563.95" x2="114.72" y2="569.27" stroke="#1a1a1a" stroke-width="0.9"/>
<line x1="113.52" y1="563.95" x2="115.92" y2="563.95" stroke="#1a1a1a" stroke-width="0.9"/>
<line x1="113.52" y1="569.27" x2="115.92" y2="569.27" stroke="#1a1a1a" stroke-width="0.9"/>
<line x1="127.59" y1="563.95" x2="127.59" y2="569.27" stroke="#1a1a1a" stroke-width="0.9"/>
<line x1="126.39" y1="563.95" x2="128.79" y2="563.95" stroke="#1a1a1a" stroke-width="0.9"/>
<line x1="126.39" y1="569.27" x2="128.79" y2="569.27" stroke="#1a1a1a" stroke-width="0.9"/>
<line x1="140.46" y1="561.69" x2="140.46" y2="569.67" stroke="#1a1a1a" stroke-width="0.9"/>
<line x1="139.26" y1="561.69" x2="141.66" y2="561.69" stroke="#1a1a1a" stroke-width="0.9"/>
<line x1="139.26" y1="569.67" x2="141.66" y2="569.67" stroke="#1a1a1a" stroke-width="0.9"/>
<line x1="153.33" y1="561.69" x2="153.33" y2="569.67" stroke="#1a1a1a" stroke-width="0.9"/>
<line x1="152.13" y1="561.69" x2="154.53" y2="561.69" stroke="#1a1a1a" stroke-width="0.9"/>
<line x1="152.13" y1="569.67" x2="154.53" y2="569.67" stroke="#1a1a1a" stroke-width="0.9"/>
<line x1="166.2" y1="566.34" x2="166.2" y2="571.66" stroke="#1a1a1a" stroke-width="0.9"/>
<line x1="165" y1="566.34" x2="167.4" y2="566.34" stroke="#1a1a1a" stroke-width="0.9"/>
<line x1="165" y1="571.66" x2="167.4" y2="571.66" stroke="#1a1a1a" stroke-width="0.9"/>
<line x1="179.07" y1="559.16" x2="179.07" y2="567.14" stroke="#1a1a1a" stroke-width="0.9"/>
<line x1="177.87" y1="559.16" x2="180.27" y2="559.16" stroke="#1a1a1a" stroke-width="0.9"/>
<line x1="177.87" y1="567.14" x2="180.27" y2="567.14" stroke="#1a1a1a" stroke-width="0.9"/>
<line x1="191.94" y1="557.57" x2="191.94" y2="564.22" stroke="#1a1a1a" stroke-width="0.9"/>
<line x1="190.74" y1="557.57" x2="193.14" y2="557.57" stroke="#1a1a1a" stroke-width="0.9"/>
<line x1="190.74" y1="564.22" x2="193.14" y2="564.22" stroke="#1a1a1a" stroke-width="0.9"/>
<line x1="204.81" y1="553.44" x2="204.81" y2="561.42" stroke="#1a1a1a" stroke-width="0.9"/>
<line x1="203.61" y1="553.44" x2="206.01" y2="553.44" stroke="#1a1a1a" stroke-width="0.9"/>
<line x1="203.61" y1="561.42" x2="206.01" y2="561.42" stroke="#1a1a1a" stroke-width="0.9"/>
<polyline points="63.24,588.95 76.11,579.78 88.98,576.98 101.85,573.53 114.72,566.61 127.59,566.61 140.46,565.68 153.33,565.68 166.2,569 179.07,563.15 191.94,560.89 204.81,557.43" fill="none" stroke="#3a1b63" stroke-width="1.3" stroke-linejoin="round" stroke-dasharray="2.4,1.4"/>
<circle cx="63.24" cy="588.95" r="1.5" fill="#3a1b63"/>
<circle cx="76.11" cy="579.78" r="1.5" fill="#3a1b63"/>
<circle cx="88.98" cy="576.98" r="1.5" fill="#3a1b63"/>
<circle cx="101.85" cy="573.53" r="1.5" fill="#3a1b63"/>
<circle cx="114.72" cy="566.61" r="1.5" fill="#3a1b63"/>
<circle cx="127.59" cy="566.61" r="1.5" fill="#3a1b63"/>
<circle cx="140.46" cy="565.68" r="1.5" fill="#3a1b63"/>
<circle cx="153.33" cy="565.68" r="1.5" fill="#3a1b63"/>
<circle cx="166.2" cy="569" r="1.5" fill="#3a1b63"/>
<circle cx="179.07" cy="563.15" r="1.5" fill="#3a1b63"/>
<circle cx="191.94" cy="560.89" r="1.5" fill="#3a1b63"/>
<circle cx="204.81" cy="557.43" r="1.5" fill="#3a1b63"/>
<line x1="63.24" y1="590.68" x2="63.24" y2="593.34" stroke="#1a1a1a" stroke-width="0.9"/>
<line x1="62.04" y1="590.68" x2="64.44" y2="590.68" stroke="#1a1a1a" stroke-width="0.9"/>
<line x1="62.04" y1="593.34" x2="64.44" y2="593.34" stroke="#1a1a1a" stroke-width="0.9"/>
<line x1="76.11" y1="583.9" x2="76.11" y2="589.22" stroke="#1a1a1a" stroke-width="0.9"/>
<line x1="74.91" y1="583.9" x2="77.31" y2="583.9" stroke="#1a1a1a" stroke-width="0.9"/>
<line x1="74.91" y1="589.22" x2="77.31" y2="589.22" stroke="#1a1a1a" stroke-width="0.9"/>
<line x1="88.98" y1="579.38" x2="88.98" y2="584.7" stroke="#1a1a1a" stroke-width="0.9"/>
<line x1="87.78" y1="579.38" x2="90.18" y2="579.38" stroke="#1a1a1a" stroke-width="0.9"/>
<line x1="87.78" y1="584.7" x2="90.18" y2="584.7" stroke="#1a1a1a" stroke-width="0.9"/>
<line x1="101.85" y1="571.93" x2="101.85" y2="579.91" stroke="#1a1a1a" stroke-width="0.9"/>
<line x1="100.65" y1="571.93" x2="103.05" y2="571.93" stroke="#1a1a1a" stroke-width="0.9"/>
<line x1="100.65" y1="579.91" x2="103.05" y2="579.91" stroke="#1a1a1a" stroke-width="0.9"/>
<line x1="114.72" y1="565.41" x2="114.72" y2="589.35" stroke="#1a1a1a" stroke-width="0.9"/>
<line x1="113.52" y1="565.41" x2="115.92" y2="565.41" stroke="#1a1a1a" stroke-width="0.9"/>
<line x1="113.52" y1="589.35" x2="115.92" y2="589.35" stroke="#1a1a1a" stroke-width="0.9"/>
<line x1="127.59" y1="554.64" x2="127.59" y2="581.24" stroke="#1a1a1a" stroke-width="0.9"/>
<line x1="126.39" y1="554.64" x2="128.79" y2="554.64" stroke="#1a1a1a" stroke-width="0.9"/>
<line x1="126.39" y1="581.24" x2="128.79" y2="581.24" stroke="#1a1a1a" stroke-width="0.9"/>
<line x1="140.46" y1="551.98" x2="140.46" y2="565.28" stroke="#1a1a1a" stroke-width="0.9"/>
<line x1="139.26" y1="551.98" x2="141.66" y2="551.98" stroke="#1a1a1a" stroke-width="0.9"/>
<line x1="139.26" y1="565.28" x2="141.66" y2="565.28" stroke="#1a1a1a" stroke-width="0.9"/>
<line x1="153.33" y1="558.1" x2="153.33" y2="571.4" stroke="#1a1a1a" stroke-width="0.9"/>
<line x1="152.13" y1="558.1" x2="154.53" y2="558.1" stroke="#1a1a1a" stroke-width="0.9"/>
<line x1="152.13" y1="571.4" x2="154.53" y2="571.4" stroke="#1a1a1a" stroke-width="0.9"/>
<line x1="166.2" y1="550.38" x2="166.2" y2="563.68" stroke="#1a1a1a" stroke-width="0.9"/>
<line x1="165" y1="550.38" x2="167.4" y2="550.38" stroke="#1a1a1a" stroke-width="0.9"/>
<line x1="165" y1="563.68" x2="167.4" y2="563.68" stroke="#1a1a1a" stroke-width="0.9"/>
<line x1="179.07" y1="545.46" x2="179.07" y2="561.42" stroke="#1a1a1a" stroke-width="0.9"/>
<line x1="177.87" y1="545.46" x2="180.27" y2="545.46" stroke="#1a1a1a" stroke-width="0.9"/>
<line x1="177.87" y1="561.42" x2="180.27" y2="561.42" stroke="#1a1a1a" stroke-width="0.9"/>
<line x1="191.94" y1="524.18" x2="191.94" y2="548.12" stroke="#1a1a1a" stroke-width="0.9"/>
<line x1="190.74" y1="524.18" x2="193.14" y2="524.18" stroke="#1a1a1a" stroke-width="0.9"/>
<line x1="190.74" y1="548.12" x2="193.14" y2="548.12" stroke="#1a1a1a" stroke-width="0.9"/>
<line x1="204.81" y1="495.45" x2="204.81" y2="512.75" stroke="#1a1a1a" stroke-width="0.9"/>
<line x1="203.61" y1="495.45" x2="206.01" y2="495.45" stroke="#1a1a1a" stroke-width="0.9"/>
<line x1="203.61" y1="512.75" x2="206.01" y2="512.75" stroke="#1a1a1a" stroke-width="0.9"/>
<polyline points="63.24,592.01 76.11,586.56 88.98,582.04 101.85,575.92 114.72,577.38 127.59,567.94 140.46,558.63 153.33,564.75 166.2,557.03 179.07,553.44 191.94,536.15 204.81,504.1" fill="none" stroke="#b3193b" stroke-width="1.45" stroke-linejoin="round"/>
<circle cx="63.24" cy="592.01" r="1.5" fill="#b3193b"/>
<circle cx="76.11" cy="586.56" r="1.5" fill="#b3193b"/>
<circle cx="88.98" cy="582.04" r="1.5" fill="#b3193b"/>
<circle cx="101.85" cy="575.92" r="1.5" fill="#b3193b"/>
<circle cx="114.72" cy="577.38" r="1.5" fill="#b3193b"/>
<circle cx="127.59" cy="567.94" r="1.5" fill="#b3193b"/>
<circle cx="140.46" cy="558.63" r="1.5" fill="#b3193b"/>
<circle cx="153.33" cy="564.75" r="1.5" fill="#b3193b"/>
<circle cx="166.2" cy="557.03" r="1.5" fill="#b3193b"/>
<circle cx="179.07" cy="553.44" r="1.5" fill="#b3193b"/>
<circle cx="191.94" cy="536.15" r="1.5" fill="#b3193b"/>
<circle cx="204.81" cy="504.1" r="1.5" fill="#b3193b"/>
<line x1="63.24" y1="591.88" x2="63.24" y2="594.54" stroke="#1a1a1a" stroke-width="0.9"/>
<line x1="62.04" y1="591.88" x2="64.44" y2="591.88" stroke="#1a1a1a" stroke-width="0.9"/>
<line x1="62.04" y1="594.54" x2="64.44" y2="594.54" stroke="#1a1a1a" stroke-width="0.9"/>
<line x1="76.11" y1="581.9" x2="76.11" y2="589.88" stroke="#1a1a1a" stroke-width="0.9"/>
<line x1="74.91" y1="581.9" x2="77.31" y2="581.9" stroke="#1a1a1a" stroke-width="0.9"/>
<line x1="74.91" y1="589.88" x2="77.31" y2="589.88" stroke="#1a1a1a" stroke-width="0.9"/>
<line x1="88.98" y1="578.05" x2="88.98" y2="586.03" stroke="#1a1a1a" stroke-width="0.9"/>
<line x1="87.78" y1="578.05" x2="90.18" y2="578.05" stroke="#1a1a1a" stroke-width="0.9"/>
<line x1="87.78" y1="586.03" x2="90.18" y2="586.03" stroke="#1a1a1a" stroke-width="0.9"/>
<line x1="101.85" y1="571.93" x2="101.85" y2="579.91" stroke="#1a1a1a" stroke-width="0.9"/>
<line x1="100.65" y1="571.93" x2="103.05" y2="571.93" stroke="#1a1a1a" stroke-width="0.9"/>
<line x1="100.65" y1="579.91" x2="103.05" y2="579.91" stroke="#1a1a1a" stroke-width="0.9"/>
<line x1="114.72" y1="573.26" x2="114.72" y2="583.9" stroke="#1a1a1a" stroke-width="0.9"/>
<line x1="113.52" y1="573.26" x2="115.92" y2="573.26" stroke="#1a1a1a" stroke-width="0.9"/>
<line x1="113.52" y1="583.9" x2="115.92" y2="583.9" stroke="#1a1a1a" stroke-width="0.9"/>
<line x1="127.59" y1="567.67" x2="127.59" y2="580.97" stroke="#1a1a1a" stroke-width="0.9"/>
<line x1="126.39" y1="567.67" x2="128.79" y2="567.67" stroke="#1a1a1a" stroke-width="0.9"/>
<line x1="126.39" y1="580.97" x2="128.79" y2="580.97" stroke="#1a1a1a" stroke-width="0.9"/>
<line x1="140.46" y1="565.28" x2="140.46" y2="575.92" stroke="#1a1a1a" stroke-width="0.9"/>
<line x1="139.26" y1="565.28" x2="141.66" y2="565.28" stroke="#1a1a1a" stroke-width="0.9"/>
<line x1="139.26" y1="575.92" x2="141.66" y2="575.92" stroke="#1a1a1a" stroke-width="0.9"/>
<line x1="153.33" y1="564.75" x2="153.33" y2="575.39" stroke="#1a1a1a" stroke-width="0.9"/>
<line x1="152.13" y1="564.75" x2="154.53" y2="564.75" stroke="#1a1a1a" stroke-width="0.9"/>
<line x1="152.13" y1="575.39" x2="154.53" y2="575.39" stroke="#1a1a1a" stroke-width="0.9"/>
<line x1="166.2" y1="548.39" x2="166.2" y2="561.69" stroke="#1a1a1a" stroke-width="0.9"/>
<line x1="165" y1="548.39" x2="167.4" y2="548.39" stroke="#1a1a1a" stroke-width="0.9"/>
<line x1="165" y1="561.69" x2="167.4" y2="561.69" stroke="#1a1a1a" stroke-width="0.9"/>
<line x1="179.07" y1="553.58" x2="179.07" y2="564.22" stroke="#1a1a1a" stroke-width="0.9"/>
<line x1="177.87" y1="553.58" x2="180.27" y2="553.58" stroke="#1a1a1a" stroke-width="0.9"/>
<line x1="177.87" y1="564.22" x2="180.27" y2="564.22" stroke="#1a1a1a" stroke-width="0.9"/>
<line x1="191.94" y1="550.65" x2="191.94" y2="561.29" stroke="#1a1a1a" stroke-width="0.9"/>
<line x1="190.74" y1="550.65" x2="193.14" y2="550.65" stroke="#1a1a1a" stroke-width="0.9"/>
<line x1="190.74" y1="561.29" x2="193.14" y2="561.29" stroke="#1a1a1a" stroke-width="0.9"/>
<line x1="204.81" y1="533.76" x2="204.81" y2="541.74" stroke="#1a1a1a" stroke-width="0.9"/>
<line x1="203.61" y1="533.76" x2="206.01" y2="533.76" stroke="#1a1a1a" stroke-width="0.9"/>
<line x1="203.61" y1="541.74" x2="206.01" y2="541.74" stroke="#1a1a1a" stroke-width="0.9"/>
<polyline points="63.24,593.21 76.11,585.89 88.98,582.04 101.85,575.92 114.72,578.58 127.59,574.32 140.46,570.6 153.33,570.07 166.2,555.04 179.07,558.9 191.94,555.97 204.81,537.75" fill="none" stroke="#f4a72a" stroke-width="1.3" stroke-linejoin="round" stroke-dasharray="2.4,1.4"/>
<circle cx="63.24" cy="593.21" r="1.5" fill="#f4a72a"/>
<circle cx="76.11" cy="585.89" r="1.5" fill="#f4a72a"/>
<circle cx="88.98" cy="582.04" r="1.5" fill="#f4a72a"/>
<circle cx="101.85" cy="575.92" r="1.5" fill="#f4a72a"/>
<circle cx="114.72" cy="578.58" r="1.5" fill="#f4a72a"/>
<circle cx="127.59" cy="574.32" r="1.5" fill="#f4a72a"/>
<circle cx="140.46" cy="570.6" r="1.5" fill="#f4a72a"/>
<circle cx="153.33" cy="570.07" r="1.5" fill="#f4a72a"/>
<circle cx="166.2" cy="555.04" r="1.5" fill="#f4a72a"/>
<circle cx="179.07" cy="558.9" r="1.5" fill="#f4a72a"/>
<circle cx="191.94" cy="555.97" r="1.5" fill="#f4a72a"/>
<circle cx="204.81" cy="537.75" r="1.5" fill="#f4a72a"/>
<line x1="43" y1="477.8" x2="54.6" y2="477.8" stroke="#8f88d4" stroke-width="1"/>
<circle cx="48.8" cy="477.8" r="1.1" fill="#8f88d4"/>
<text x="58.5" y="480.9" font-size="8.6" fill="#222" textLength="32.7" lengthAdjust="spacingAndGlyphs">WT (PBS)</text>
<line x1="43" y1="487.8" x2="54.6" y2="487.8" stroke="#3a1b63" stroke-width="1" stroke-dasharray="2.2,1.4"/>
<circle cx="48.8" cy="487.8" r="1.1" fill="#3a1b63"/>
<text x="58.5" y="490.9" font-size="8.6" fill="#222" textLength="56.5" lengthAdjust="spacingAndGlyphs">WT (+ Anakinra)</text>
<line x1="43" y1="498.2" x2="54.6" y2="498.2" stroke="#b3193b" stroke-width="1"/>
<circle cx="48.8" cy="498.2" r="1.1" fill="#b3193b"/>
<text x="58.5" y="501.3" font-size="8.6" fill="#222" textLength="44.6" lengthAdjust="spacingAndGlyphs"><tspan font-style="italic">Tet2</tspan><tspan dy="-3" font-size="6">+/-</tspan><tspan dy="3"> (PBS)</tspan></text>
<line x1="43" y1="507.8" x2="54.6" y2="507.8" stroke="#f4a72a" stroke-width="1" stroke-dasharray="2.2,1.4"/>
<circle cx="48.8" cy="507.8" r="1.1" fill="#f4a72a"/>
<text x="58.5" y="510.9" font-size="8.6" fill="#222" textLength="67.7" lengthAdjust="spacingAndGlyphs"><tspan font-style="italic">Tet2</tspan><tspan dy="-3" font-size="6">+/-</tspan><tspan dy="3"> (+ Anakinra)</tspan></text>
<line x1="214.1" y1="502.6" x2="214.1" y2="538" stroke="#2a2a2a" stroke-width="1.1"/>
<line x1="210.5" y1="502.6" x2="214.1" y2="502.6" stroke="#2a2a2a" stroke-width="1.1"/>
<line x1="210.5" y1="538" x2="214.1" y2="538" stroke="#2a2a2a" stroke-width="1.1"/>
<polygon points="217.4,517.5 218.14,518.58 219.4,518.95 218.6,519.99 218.63,521.3 217.4,520.86 216.17,521.3 216.2,519.99 215.4,518.95 216.66,518.58" fill="#2a2a2a"/>
<line x1="220.3" y1="502.6" x2="220.3" y2="557.8" stroke="#2a2a2a" stroke-width="1.1"/>
<line x1="216.7" y1="502.6" x2="220.3" y2="502.6" stroke="#2a2a2a" stroke-width="1.1"/>
<line x1="216.7" y1="557.8" x2="220.3" y2="557.8" stroke="#2a2a2a" stroke-width="1.1"/>
<line x1="226.4" y1="502.6" x2="226.4" y2="560.2" stroke="#2a2a2a" stroke-width="1.1"/>
<line x1="222.8" y1="502.6" x2="226.4" y2="502.6" stroke="#2a2a2a" stroke-width="1.1"/>
<line x1="222.8" y1="560.2" x2="226.4" y2="560.2" stroke="#2a2a2a" stroke-width="1.1"/>
<polygon points="223.3,523.7 224.04,524.78 225.3,525.15 224.5,526.19 224.53,527.5 223.3,527.06 222.07,527.5 222.1,526.19 221.3,525.15 222.56,524.78" fill="#2a2a2a"/>
<polygon points="229.9,523.7 230.64,524.78 231.9,525.15 231.1,526.19 231.13,527.5 229.9,527.06 228.67,527.5 228.7,526.19 227.9,525.15 229.16,524.78" fill="#2a2a2a"/>
<polygon points="223.3,528 224.04,529.08 225.3,529.45 224.5,530.49 224.53,531.8 223.3,531.36 222.07,531.8 222.1,530.49 221.3,529.45 222.56,529.08" fill="#2a2a2a"/>
<polygon points="229.9,528 230.64,529.08 231.9,529.45 231.1,530.49 231.13,531.8 229.9,531.36 228.67,531.8 228.7,530.49 227.9,529.45 229.16,529.08" fill="#2a2a2a"/>
<polygon points="223.3,532.3 224.04,533.38 225.3,533.75 224.5,534.79 224.53,536.1 223.3,535.66 222.07,536.1 222.1,534.79 221.3,533.75 222.56,533.38" fill="#2a2a2a"/>
<polygon points="229.9,532.3 230.64,533.38 231.9,533.75 231.1,534.79 231.13,536.1 229.9,535.66 228.67,536.1 228.7,534.79 227.9,533.75 229.16,533.38" fill="#2a2a2a"/>
<text x="239.2" y="451.7" font-size="12" fill="#000" font-weight="bold">G</text>
<line x1="296.5" y1="474.5" x2="296.5" y2="611" stroke="#2a2a2a" stroke-width="1.25"/>
<line x1="295.9" y1="610.5" x2="365.7" y2="610.5" stroke="#2a2a2a" stroke-width="1.25"/>
<line x1="293.3" y1="610.5" x2="296.5" y2="610.5" stroke="#2a2a2a" stroke-width="0.9"/>
<text x="290" y="613.7" font-size="8.8" text-anchor="end" fill="#333" textLength="11.4" lengthAdjust="spacingAndGlyphs" stroke="#333" stroke-width="0.2">0.5</text>
<line x1="293.3" y1="576.98" x2="296.5" y2="576.98" stroke="#2a2a2a" stroke-width="0.9"/>
<text x="290" y="580.18" font-size="8.8" text-anchor="end" fill="#333" textLength="11.4" lengthAdjust="spacingAndGlyphs" stroke="#333" stroke-width="0.2">1.0</text>
<line x1="293.3" y1="543.45" x2="296.5" y2="543.45" stroke="#2a2a2a" stroke-width="0.9"/>
<text x="290" y="546.65" font-size="8.8" text-anchor="end" fill="#333" textLength="11.4" lengthAdjust="spacingAndGlyphs" stroke="#333" stroke-width="0.2">1.5</text>
<line x1="293.3" y1="509.93" x2="296.5" y2="509.93" stroke="#2a2a2a" stroke-width="0.9"/>
<text x="290" y="513.12" font-size="8.8" text-anchor="end" fill="#333" textLength="11.4" lengthAdjust="spacingAndGlyphs" stroke="#333" stroke-width="0.2">2.0</text>
<line x1="293.3" y1="476.4" x2="296.5" y2="476.4" stroke="#2a2a2a" stroke-width="0.9"/>
<text x="290" y="479.6" font-size="8.8" text-anchor="end" fill="#333" textLength="11.4" lengthAdjust="spacingAndGlyphs" stroke="#333" stroke-width="0.2">2.5</text>
<line x1="296.5" y1="576.98" x2="365.5" y2="576.98" stroke="#9a9a9a" stroke-width="0.8" stroke-dasharray="2,1.5"/>
<rect x="301.5" y="564.57" width="10" height="45.93" fill="#958bcb"/>
<line x1="306.5" y1="557.87" x2="306.5" y2="571.28" stroke="#222" stroke-width="0.9"/>
<line x1="304.2" y1="557.87" x2="308.8" y2="557.87" stroke="#222" stroke-width="0.9"/>
<line x1="304.2" y1="571.28" x2="308.8" y2="571.28" stroke="#222" stroke-width="0.9"/>
<line x1="306.5" y1="610.5" x2="306.5" y2="613.5" stroke="#2a2a2a" stroke-width="0.9"/>
<rect x="317.4" y="567.25" width="10" height="43.25" fill="#5b2474"/>
<line x1="322.4" y1="610.5" x2="322.4" y2="613.5" stroke="#2a2a2a" stroke-width="0.9"/>
<rect x="333.4" y="512.27" width="10.4" height="98.23" fill="#c8102e"/>
<line x1="338.6" y1="501.54" x2="338.6" y2="523" stroke="#222" stroke-width="0.9"/>
<line x1="336.3" y1="501.54" x2="340.9" y2="501.54" stroke="#222" stroke-width="0.9"/>
<line x1="336.3" y1="523" x2="340.9" y2="523" stroke="#222" stroke-width="0.9"/>
<line x1="338.6" y1="610.5" x2="338.6" y2="613.5" stroke="#2a2a2a" stroke-width="0.9"/>
<rect x="349.2" y="547.14" width="10.8" height="63.36" fill="#f49500"/>
<line x1="354.6" y1="542.78" x2="354.6" y2="551.5" stroke="#222" stroke-width="0.9"/>
<line x1="352.3" y1="542.78" x2="356.9" y2="542.78" stroke="#222" stroke-width="0.9"/>
<line x1="352.3" y1="551.5" x2="356.9" y2="551.5" stroke="#222" stroke-width="0.9"/>
<line x1="354.6" y1="610.5" x2="354.6" y2="613.5" stroke="#2a2a2a" stroke-width="0.9"/>
<rect x="305" y="552.7" width="3" height="3" fill="#111" rx="1.1"/>
<rect x="305" y="561.3" width="3" height="3" fill="#111" rx="1.1"/>
<rect x="305" y="576.2" width="3" height="3" fill="#111" rx="1.1"/>
<rect x="318" y="565.8" width="3" height="3" fill="#111" rx="1.1"/>
<rect x="320.8" y="566.2" width="3" height="3" fill="#111" rx="1.1"/>
<rect x="323.7" y="566.4" width="3" height="3" fill="#111" rx="1.1"/>
<rect x="337" y="480.8" width="3" height="3" fill="#111" rx="1.1"/>
<rect x="334.2" y="501.5" width="3" height="3" fill="#111" rx="1.1"/>
<rect x="339.3" y="501.5" width="3" height="3" fill="#111" rx="1.1"/>
<rect x="337" y="527.4" width="3" height="3" fill="#111" rx="1.1"/>
<rect x="337" y="546.2" width="3" height="3" fill="#111" rx="1.1"/>
<rect x="352.8" y="533.9" width="3" height="3" fill="#111" rx="1.1"/>
<rect x="352.8" y="547" width="3" height="3" fill="#111" rx="1.1"/>
<rect x="349.7" y="551.5" width="3" height="3" fill="#111" rx="1.1"/>
<rect x="355.5" y="552.7" width="3" height="3" fill="#111" rx="1.1"/>
<line x1="306.2" y1="461.1" x2="356.5" y2="461.1" stroke="#333" stroke-width="0.8"/>
<line x1="356.5" y1="461.1" x2="356.5" y2="462.6" stroke="#333" stroke-width="0.8"/>
<line x1="322" y1="461.1" x2="322" y2="462.6" stroke="#333" stroke-width="0.8"/>
<line x1="338.9" y1="461.1" x2="338.9" y2="462.6" stroke="#333" stroke-width="0.8"/>
<line x1="322" y1="468.5" x2="356.5" y2="468.5" stroke="#333" stroke-width="0.8"/>
<line x1="356.5" y1="468.5" x2="356.5" y2="470" stroke="#333" stroke-width="0.8"/>
<line x1="338.9" y1="468.5" x2="338.9" y2="470" stroke="#333" stroke-width="0.8"/>
<line x1="338.9" y1="475.8" x2="356.5" y2="475.8" stroke="#333" stroke-width="0.8"/>
<line x1="356.5" y1="475.8" x2="356.5" y2="477.3" stroke="#333" stroke-width="0.8"/>
<text x="313.8" y="459" font-size="9" text-anchor="middle" fill="#333" textLength="7.7" lengthAdjust="spacingAndGlyphs">ns</text>
<text x="346.6" y="459" font-size="9" text-anchor="middle" fill="#333" textLength="7.7" lengthAdjust="spacingAndGlyphs">ns</text>
<text x="346.6" y="466.3" font-size="9" text-anchor="middle" fill="#333" textLength="7.7" lengthAdjust="spacingAndGlyphs">ns</text>
<polygon points="329,454.75 329.79,455.91 331.14,456.3 330.28,457.42 330.32,458.82 329,458.35 327.68,458.82 327.72,457.42 326.86,456.3 328.21,455.91" fill="#2a2a2a"/>
<polygon points="333.6,454.75 334.39,455.91 335.74,456.3 334.88,457.42 334.92,458.82 333.6,458.35 332.28,458.82 332.32,457.42 331.46,456.3 332.81,455.91" fill="#2a2a2a"/>
<polygon points="329,461.95 329.79,463.11 331.14,463.5 330.28,464.62 330.32,466.02 329,465.55 327.68,466.02 327.72,464.62 326.86,463.5 328.21,463.11" fill="#2a2a2a"/>
<polygon points="333.6,461.95 334.39,463.11 335.74,463.5 334.88,464.62 334.92,466.02 333.6,465.55 332.28,466.02 332.32,464.62 331.46,463.5 332.81,463.11" fill="#2a2a2a"/>
<polygon points="347.4,469.45 348.19,470.61 349.54,471 348.68,472.12 348.72,473.52 347.4,473.05 346.08,473.52 346.12,472.12 345.26,471 346.61,470.61" fill="#2a2a2a"/>
<text transform="translate(260.8,543.2) rotate(-90)" font-size="10" text-anchor="middle" fill="#2a2a2a" stroke="#2a2a2a" stroke-width="0.2" textLength="108.5" lengthAdjust="spacingAndGlyphs">CD45.2+ <tspan fill="#5cb84e" stroke="#5cb84e">ZsG+</tspan>% fold variation</text>
<text transform="translate(272.6,543.0) rotate(-90)" font-size="10" text-anchor="middle" fill="#2a2a2a" stroke="#2a2a2a" stroke-width="0.2" textLength="55" lengthAdjust="spacingAndGlyphs">(11-13 months)</text>
<text x="296.2" y="625.4" font-size="8.2" text-anchor="end" fill="#333" textLength="35" lengthAdjust="spacingAndGlyphs">Anakinra:</text>
<text x="307" y="625" font-size="7.5" text-anchor="middle" fill="#333">–</text>
<text x="322.5" y="625" font-size="7.5" text-anchor="middle" fill="#333">+</text>
<text x="338" y="625" font-size="7.5" text-anchor="middle" fill="#333">–</text>
<text x="354.5" y="625" font-size="7.5" text-anchor="middle" fill="#333">+</text>
<line x1="301.3" y1="626.6" x2="327.5" y2="626.6" stroke="#333" stroke-width="0.8"/>
<line x1="333.8" y1="626.6" x2="358.8" y2="626.6" stroke="#333" stroke-width="0.8"/>
<text x="314.5" y="636.8" font-size="8.2" text-anchor="middle" fill="#333">WT</text>
<text x="346.3" y="636.8" font-size="8.2" text-anchor="middle" fill="#333" font-style="italic">Tet2+/-</text>
<text x="375.2" y="451.8" font-size="12" fill="#000" font-weight="bold">H</text>
<line x1="443.5" y1="458.5" x2="443.5" y2="607.5" stroke="#6c6e9a" stroke-width="0.7" stroke-dasharray="1.2,1.2"/>
<line x1="427.5" y1="464.6" x2="430.5" y2="464.6" stroke="#2a2a2a" stroke-width="0.9"/>
<text x="424.2" y="467.7" font-size="8.4" text-anchor="end" fill="#333">Total cells</text>
<rect x="430.5" y="458.85" width="30.7" height="2.1" fill="#958bcb"/>
<rect x="430.5" y="461.85" width="27.5" height="2.1" fill="#5b2474"/>
<line x1="458" y1="462.9" x2="459.6" y2="462.9" stroke="#8f8799" stroke-width="0.8"/>
<rect x="430.5" y="464.85" width="37.5" height="2.1" fill="#c8102e"/>
<line x1="468" y1="465.9" x2="473.9" y2="465.9" stroke="#a09098" stroke-width="0.8"/>
<rect x="430.5" y="467.85" width="33" height="2.1" fill="#f49500"/>
<line x1="427.5" y1="478.2" x2="430.5" y2="478.2" stroke="#2a2a2a" stroke-width="0.9"/>
<text x="424.2" y="481.3" font-size="8.4" text-anchor="end" fill="#333">CLP</text>
<rect x="430.5" y="472.45" width="32.2" height="2.1" fill="#958bcb"/>
<rect x="430.5" y="475.45" width="27.5" height="2.1" fill="#5b2474"/>
<rect x="430.5" y="478.45" width="29.5" height="2.1" fill="#c8102e"/>
<line x1="460" y1="479.5" x2="464.7" y2="479.5" stroke="#a09098" stroke-width="0.8"/>
<rect x="430.5" y="481.45" width="33.3" height="2.1" fill="#f49500"/>
<line x1="427.5" y1="491.8" x2="430.5" y2="491.8" stroke="#2a2a2a" stroke-width="0.9"/>
<text x="424.2" y="494.9" font-size="8.4" text-anchor="end" fill="#333">MEP</text>
<rect x="430.5" y="486.05" width="21" height="2.1" fill="#958bcb"/>
<rect x="430.5" y="489.05" width="19.1" height="2.1" fill="#5b2474"/>
<rect x="430.5" y="492.05" width="26.8" height="2.1" fill="#c8102e"/>
<line x1="457.3" y1="493.1" x2="462.7" y2="493.1" stroke="#a09098" stroke-width="0.8"/>
<rect x="430.5" y="495.05" width="22.2" height="2.1" fill="#f49500"/>
<line x1="427.5" y1="505.4" x2="430.5" y2="505.4" stroke="#2a2a2a" stroke-width="0.9"/>
<text x="424.2" y="508.5" font-size="8.4" text-anchor="end" fill="#333">CMP</text>
<rect x="430.5" y="499.65" width="33" height="2.1" fill="#958bcb"/>
<rect x="430.5" y="502.65" width="27.5" height="2.1" fill="#5b2474"/>
<line x1="458" y1="503.7" x2="461.6" y2="503.7" stroke="#8f8799" stroke-width="0.8"/>
<rect x="430.5" y="505.65" width="34.2" height="2.1" fill="#c8102e"/>
<line x1="464.7" y1="506.7" x2="471.2" y2="506.7" stroke="#a09098" stroke-width="0.8"/>
<rect x="430.5" y="508.65" width="31.1" height="2.1" fill="#f49500"/>
<line x1="427.5" y1="519" x2="430.5" y2="519" stroke="#2a2a2a" stroke-width="0.9"/>
<text x="424.2" y="522.1" font-size="8.4" text-anchor="end" fill="#333">GMP</text>
<rect x="430.5" y="513.25" width="19.5" height="2.1" fill="#958bcb"/>
<line x1="450" y1="514.3" x2="454.5" y2="514.3" stroke="#9d98b8" stroke-width="0.8"/>
<rect x="430.5" y="516.25" width="19.1" height="2.1" fill="#5b2474"/>
<line x1="449.6" y1="517.3" x2="452.7" y2="517.3" stroke="#8f8799" stroke-width="0.8"/>
<rect x="430.5" y="519.25" width="28.7" height="2.1" fill="#c8102e"/>
<line x1="459.2" y1="520.3" x2="465.3" y2="520.3" stroke="#a09098" stroke-width="0.8"/>
<rect x="430.5" y="522.25" width="25.3" height="2.1" fill="#f49500"/>
<line x1="427.5" y1="532.6" x2="430.5" y2="532.6" stroke="#2a2a2a" stroke-width="0.9"/>
<text x="424.2" y="535.7" font-size="8.4" text-anchor="end" fill="#333">LSK</text>
<rect x="430.5" y="526.85" width="32.2" height="2.1" fill="#958bcb"/>
<rect x="430.5" y="529.85" width="31.4" height="2.1" fill="#5b2474"/>
<rect x="430.5" y="532.85" width="39.4" height="2.1" fill="#c8102e"/>
<line x1="469.9" y1="533.9" x2="475.8" y2="533.9" stroke="#a09098" stroke-width="0.8"/>
<rect x="430.5" y="535.85" width="33.3" height="2.1" fill="#f49500"/>
<line x1="427.5" y1="546.2" x2="430.5" y2="546.2" stroke="#2a2a2a" stroke-width="0.9"/>
<text x="424.2" y="549.3" font-size="8.4" text-anchor="end" fill="#333">MPP4</text>
<rect x="430.5" y="540.45" width="27.5" height="2.1" fill="#958bcb"/>
<rect x="430.5" y="543.45" width="14.5" height="2.1" fill="#5b2474"/>
<line x1="445" y1="544.5" x2="452.7" y2="544.5" stroke="#8f8799" stroke-width="0.8"/>
<rect x="430.5" y="546.45" width="24.5" height="2.1" fill="#c8102e"/>
<line x1="455" y1="547.5" x2="460" y2="547.5" stroke="#a09098" stroke-width="0.8"/>
<rect x="430.5" y="549.45" width="33" height="2.1" fill="#f49500"/>
<line x1="463.5" y1="550.5" x2="472.7" y2="550.5" stroke="#b0a080" stroke-width="0.8"/>
<line x1="427.5" y1="559.8" x2="430.5" y2="559.8" stroke="#2a2a2a" stroke-width="0.9"/>
<text x="424.2" y="562.9" font-size="8.4" text-anchor="end" fill="#333">MPP3</text>
<rect x="430.5" y="554.05" width="26.5" height="2.1" fill="#958bcb"/>
<rect x="430.5" y="557.05" width="18.3" height="2.1" fill="#5b2474"/>
<line x1="448.8" y1="558.1" x2="454.2" y2="558.1" stroke="#8f8799" stroke-width="0.8"/>
<rect x="430.5" y="560.05" width="29.1" height="2.1" fill="#c8102e"/>
<line x1="459.6" y1="561.1" x2="464.7" y2="561.1" stroke="#a09098" stroke-width="0.8"/>
<rect x="430.5" y="563.05" width="33.7" height="2.1" fill="#f49500"/>
<line x1="427.5" y1="573.4" x2="430.5" y2="573.4" stroke="#2a2a2a" stroke-width="0.9"/>
<text x="424.2" y="576.5" font-size="8.4" text-anchor="end" fill="#333">MPP2</text>
<rect x="430.5" y="567.65" width="33.7" height="2.1" fill="#958bcb"/>
<rect x="430.5" y="570.65" width="23.7" height="2.1" fill="#5b2474"/>
<line x1="454.2" y1="571.7" x2="460.7" y2="571.7" stroke="#8f8799" stroke-width="0.8"/>
<rect x="430.5" y="573.65" width="53.7" height="2.1" fill="#c8102e"/>
<line x1="484.2" y1="574.7" x2="499.6" y2="574.7" stroke="#a09098" stroke-width="0.8"/>
<rect x="430.5" y="576.65" width="42.2" height="2.1" fill="#f49500"/>
<line x1="472.7" y1="577.7" x2="477.3" y2="577.7" stroke="#b0a080" stroke-width="0.8"/>
<line x1="427.5" y1="587" x2="430.5" y2="587" stroke="#2a2a2a" stroke-width="0.9"/>
<text x="424.2" y="590.1" font-size="8.4" text-anchor="end" fill="#333">MPP1</text>
<rect x="430.5" y="581.25" width="33.3" height="2.1" fill="#958bcb"/>
<rect x="430.5" y="584.25" width="33.3" height="2.1" fill="#5b2474"/>
<rect x="430.5" y="587.25" width="27.5" height="2.1" fill="#c8102e"/>
<line x1="458" y1="588.3" x2="464.2" y2="588.3" stroke="#a09098" stroke-width="0.8"/>
<rect x="430.5" y="590.25" width="18.3" height="2.1" fill="#f49500"/>
<line x1="427.5" y1="600.6" x2="430.5" y2="600.6" stroke="#2a2a2a" stroke-width="0.9"/>
<text x="424.2" y="603.7" font-size="8.4" text-anchor="end" fill="#333">LT-HSC</text>
<rect x="430.5" y="594.85" width="26" height="2.1" fill="#958bcb"/>
<rect x="430.5" y="597.85" width="25.3" height="2.1" fill="#5b2474"/>
<rect x="430.5" y="600.85" width="43" height="2.1" fill="#c8102e"/>
<line x1="473.5" y1="601.9" x2="484.2" y2="601.9" stroke="#a09098" stroke-width="0.8"/>
<rect x="430.5" y="603.85" width="31.4" height="2.1" fill="#f49500"/>
<line x1="461.9" y1="604.9" x2="472.7" y2="604.9" stroke="#b0a080" stroke-width="0.8"/>
<line x1="443.5" y1="458.5" x2="443.5" y2="607.5" stroke="#5c5e8a" stroke-width="0.6" stroke-dasharray="1.2,1.2" opacity="0.6"/>
<line x1="430.5" y1="458.3" x2="430.5" y2="608" stroke="#2a2a2a" stroke-width="1.25"/>
<line x1="429.9" y1="607.5" x2="511" y2="607.5" stroke="#2a2a2a" stroke-width="1.25"/>
<line x1="430.5" y1="607.5" x2="430.5" y2="610.5" stroke="#2a2a2a" stroke-width="0.9"/>
<text x="430.5" y="620.8" font-size="8.6" text-anchor="middle" fill="#333" stroke="#333" stroke-width="0.2">0</text>
<line x1="450.14" y1="607.5" x2="450.14" y2="610.5" stroke="#2a2a2a" stroke-width="0.9"/>
<text x="450.14" y="620.8" font-size="8.6" text-anchor="middle" fill="#333" stroke="#333" stroke-width="0.2">2</text>
<line x1="469.78" y1="607.5" x2="469.78" y2="610.5" stroke="#2a2a2a" stroke-width="0.9"/>
<text x="469.78" y="620.8" font-size="8.6" text-anchor="middle" fill="#333" stroke="#333" stroke-width="0.2">4</text>
<line x1="489.42" y1="607.5" x2="489.42" y2="610.5" stroke="#2a2a2a" stroke-width="0.9"/>
<text x="489.42" y="620.8" font-size="8.6" text-anchor="middle" fill="#333" stroke="#333" stroke-width="0.2">6</text>
<line x1="509.06" y1="607.5" x2="509.06" y2="610.5" stroke="#2a2a2a" stroke-width="0.9"/>
<text x="509.06" y="620.8" font-size="8.6" text-anchor="middle" fill="#333" stroke="#333" stroke-width="0.2">8</text>
<line x1="478.1" y1="459.3" x2="478.1" y2="466.5" stroke="#555" stroke-width="1.4"/>
<polygon points="482.1,460.3 482.84,461.38 484.1,461.75 483.3,462.79 483.33,464.1 482.1,463.66 480.87,464.1 480.9,462.79 480.1,461.75 481.36,461.38" fill="#222"/>
<line x1="478.8" y1="527.4" x2="478.8" y2="534.6" stroke="#555" stroke-width="1.4"/>
<polygon points="482.8,528.7 483.54,529.78 484.8,530.15 484,531.19 484.03,532.5 482.8,532.06 481.57,532.5 481.6,531.19 480.8,530.15 482.06,529.78" fill="#222"/>
<line x1="487.8" y1="594.6" x2="487.8" y2="603.8" stroke="#555" stroke-width="1.4"/>
<polygon points="491.8,597.1 492.54,598.18 493.8,598.55 493,599.59 493.03,600.9 491.8,600.46 490.57,600.9 490.6,599.59 489.8,598.55 491.06,598.18" fill="#222"/>
<text x="469" y="633.8" font-size="9.5" text-anchor="middle" fill="#2a2a2a" stroke="#2a2a2a" stroke-width="0.2" textLength="69.7" lengthAdjust="spacingAndGlyphs">% <tspan fill="#5cb84e" stroke="#5cb84e">ZsG+</tspan> in indicated</text>
<text x="469.5" y="644.5" font-size="9.5" text-anchor="middle" fill="#2a2a2a" textLength="100" lengthAdjust="spacingAndGlyphs" stroke="#2a2a2a" stroke-width="0.2">BM populations (13 months)</text>
</svg>
</body></html>
